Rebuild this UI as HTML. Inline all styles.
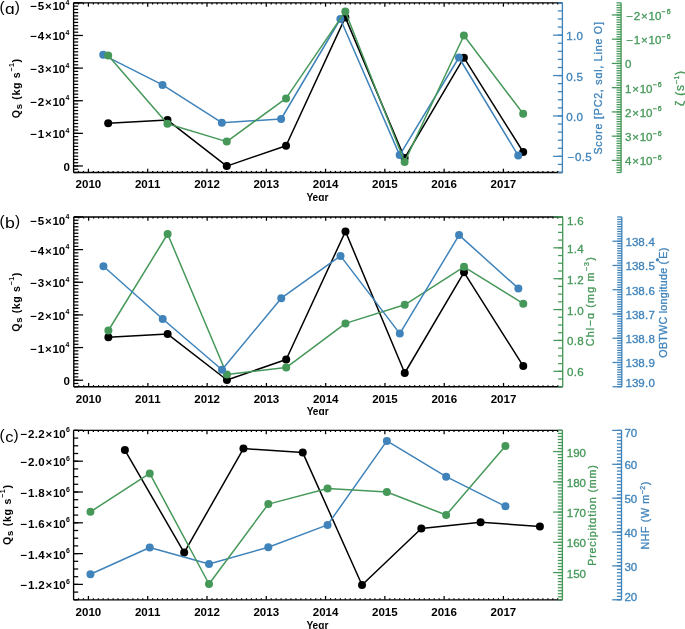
<!DOCTYPE html><html><head><meta charset="utf-8"><style>html,body{margin:0;padding:0;background:#fff;}svg{display:block;will-change:transform}text{font-family:"Liberation Sans",sans-serif;}</style></head><body>
<svg width="685" height="629" viewBox="0 0 685 629">
<rect width="685" height="629" fill="#fff"/>
<text x="-0.4" y="12.3" fill="#000" font-size="15.4">(</text>
<text transform="translate(5,13.8) scale(1.13,1)" fill="#000" font-size="15.4">ɑ</text>
<text x="14.8" y="12.3" fill="#000" font-size="15.4">)</text>
<polyline points="108.18,123.3 167.47,120.1 226.75,166.1 286.04,145.7 345.32,17.4 404.61,158.1 463.89,57.7 523.18,152" fill="none" stroke="#000" stroke-width="1.5" stroke-linejoin="round"/>
<circle cx="108.18" cy="123.3" r="4.0" fill="#000"/>
<circle cx="167.47" cy="120.1" r="4.0" fill="#000"/>
<circle cx="226.75" cy="166.1" r="4.0" fill="#000"/>
<circle cx="286.04" cy="145.7" r="4.0" fill="#000"/>
<circle cx="345.32" cy="17.4" r="4.0" fill="#000"/>
<circle cx="404.61" cy="158.1" r="4.0" fill="#000"/>
<circle cx="463.89" cy="57.7" r="4.0" fill="#000"/>
<circle cx="523.18" cy="152" r="4.0" fill="#000"/>
<polyline points="103.24,54.8 162.53,84.9 221.81,122.7 281.1,119 340.38,19 399.67,155.1 458.95,57.5 518.24,155.6" fill="none" stroke="#3F83BA" stroke-width="1.5" stroke-linejoin="round"/>
<circle cx="103.24" cy="54.8" r="4.0" fill="#3F83BA"/>
<circle cx="162.53" cy="84.9" r="4.0" fill="#3F83BA"/>
<circle cx="221.81" cy="122.7" r="4.0" fill="#3F83BA"/>
<circle cx="281.1" cy="119" r="4.0" fill="#3F83BA"/>
<circle cx="340.38" cy="19" r="4.0" fill="#3F83BA"/>
<circle cx="399.67" cy="155.1" r="4.0" fill="#3F83BA"/>
<circle cx="458.95" cy="57.5" r="4.0" fill="#3F83BA"/>
<circle cx="518.24" cy="155.6" r="4.0" fill="#3F83BA"/>
<polyline points="108.18,55.4 167.47,123.8 226.75,141.6 286.04,98.4 345.32,11.4 404.61,161.9 463.89,35.5 523.18,113.8" fill="none" stroke="#469859" stroke-width="1.5" stroke-linejoin="round"/>
<circle cx="108.18" cy="55.4" r="4.0" fill="#469859"/>
<circle cx="167.47" cy="123.8" r="4.0" fill="#469859"/>
<circle cx="226.75" cy="141.6" r="4.0" fill="#469859"/>
<circle cx="286.04" cy="98.4" r="4.0" fill="#469859"/>
<circle cx="345.32" cy="11.4" r="4.0" fill="#469859"/>
<circle cx="404.61" cy="161.9" r="4.0" fill="#469859"/>
<circle cx="463.89" cy="35.5" r="4.0" fill="#469859"/>
<circle cx="523.18" cy="113.8" r="4.0" fill="#469859"/>
<line x1="73.6" y1="172.5" x2="562.4" y2="172.5" stroke="#000" stroke-width="1.35"/>
<line x1="73.6" y1="2.85" x2="562.4" y2="2.85" stroke="#000" stroke-width="1.35"/>
<line x1="78.54" y1="172.5" x2="78.54" y2="170.9" stroke="#000" stroke-width="1.25"/>
<line x1="78.54" y1="2.85" x2="78.54" y2="4.45" stroke="#000" stroke-width="1.25"/>
<line x1="83.48" y1="172.5" x2="83.48" y2="170.9" stroke="#000" stroke-width="1.25"/>
<line x1="83.48" y1="2.85" x2="83.48" y2="4.45" stroke="#000" stroke-width="1.25"/>
<line x1="88.42" y1="172.5" x2="88.42" y2="168.7" stroke="#000" stroke-width="1.25"/>
<line x1="88.42" y1="2.85" x2="88.42" y2="6.65" stroke="#000" stroke-width="1.25"/>
<line x1="93.36" y1="172.5" x2="93.36" y2="170.9" stroke="#000" stroke-width="1.25"/>
<line x1="93.36" y1="2.85" x2="93.36" y2="4.45" stroke="#000" stroke-width="1.25"/>
<line x1="98.3" y1="172.5" x2="98.3" y2="170.9" stroke="#000" stroke-width="1.25"/>
<line x1="98.3" y1="2.85" x2="98.3" y2="4.45" stroke="#000" stroke-width="1.25"/>
<line x1="103.24" y1="172.5" x2="103.24" y2="170.9" stroke="#000" stroke-width="1.25"/>
<line x1="103.24" y1="2.85" x2="103.24" y2="4.45" stroke="#000" stroke-width="1.25"/>
<line x1="108.18" y1="172.5" x2="108.18" y2="170.9" stroke="#000" stroke-width="1.25"/>
<line x1="108.18" y1="2.85" x2="108.18" y2="4.45" stroke="#000" stroke-width="1.25"/>
<line x1="113.12" y1="172.5" x2="113.12" y2="170.9" stroke="#000" stroke-width="1.25"/>
<line x1="113.12" y1="2.85" x2="113.12" y2="4.45" stroke="#000" stroke-width="1.25"/>
<line x1="118.06" y1="172.5" x2="118.06" y2="170.9" stroke="#000" stroke-width="1.25"/>
<line x1="118.06" y1="2.85" x2="118.06" y2="4.45" stroke="#000" stroke-width="1.25"/>
<line x1="123" y1="172.5" x2="123" y2="170.9" stroke="#000" stroke-width="1.25"/>
<line x1="123" y1="2.85" x2="123" y2="4.45" stroke="#000" stroke-width="1.25"/>
<line x1="127.94" y1="172.5" x2="127.94" y2="170.9" stroke="#000" stroke-width="1.25"/>
<line x1="127.94" y1="2.85" x2="127.94" y2="4.45" stroke="#000" stroke-width="1.25"/>
<line x1="132.88" y1="172.5" x2="132.88" y2="170.9" stroke="#000" stroke-width="1.25"/>
<line x1="132.88" y1="2.85" x2="132.88" y2="4.45" stroke="#000" stroke-width="1.25"/>
<line x1="137.83" y1="172.5" x2="137.83" y2="170.9" stroke="#000" stroke-width="1.25"/>
<line x1="137.83" y1="2.85" x2="137.83" y2="4.45" stroke="#000" stroke-width="1.25"/>
<line x1="142.77" y1="172.5" x2="142.77" y2="170.9" stroke="#000" stroke-width="1.25"/>
<line x1="142.77" y1="2.85" x2="142.77" y2="4.45" stroke="#000" stroke-width="1.25"/>
<line x1="147.71" y1="172.5" x2="147.71" y2="168.7" stroke="#000" stroke-width="1.25"/>
<line x1="147.71" y1="2.85" x2="147.71" y2="6.65" stroke="#000" stroke-width="1.25"/>
<line x1="152.65" y1="172.5" x2="152.65" y2="170.9" stroke="#000" stroke-width="1.25"/>
<line x1="152.65" y1="2.85" x2="152.65" y2="4.45" stroke="#000" stroke-width="1.25"/>
<line x1="157.59" y1="172.5" x2="157.59" y2="170.9" stroke="#000" stroke-width="1.25"/>
<line x1="157.59" y1="2.85" x2="157.59" y2="4.45" stroke="#000" stroke-width="1.25"/>
<line x1="162.53" y1="172.5" x2="162.53" y2="170.9" stroke="#000" stroke-width="1.25"/>
<line x1="162.53" y1="2.85" x2="162.53" y2="4.45" stroke="#000" stroke-width="1.25"/>
<line x1="167.47" y1="172.5" x2="167.47" y2="170.9" stroke="#000" stroke-width="1.25"/>
<line x1="167.47" y1="2.85" x2="167.47" y2="4.45" stroke="#000" stroke-width="1.25"/>
<line x1="172.41" y1="172.5" x2="172.41" y2="170.9" stroke="#000" stroke-width="1.25"/>
<line x1="172.41" y1="2.85" x2="172.41" y2="4.45" stroke="#000" stroke-width="1.25"/>
<line x1="177.35" y1="172.5" x2="177.35" y2="170.9" stroke="#000" stroke-width="1.25"/>
<line x1="177.35" y1="2.85" x2="177.35" y2="4.45" stroke="#000" stroke-width="1.25"/>
<line x1="182.29" y1="172.5" x2="182.29" y2="170.9" stroke="#000" stroke-width="1.25"/>
<line x1="182.29" y1="2.85" x2="182.29" y2="4.45" stroke="#000" stroke-width="1.25"/>
<line x1="187.23" y1="172.5" x2="187.23" y2="170.9" stroke="#000" stroke-width="1.25"/>
<line x1="187.23" y1="2.85" x2="187.23" y2="4.45" stroke="#000" stroke-width="1.25"/>
<line x1="192.17" y1="172.5" x2="192.17" y2="170.9" stroke="#000" stroke-width="1.25"/>
<line x1="192.17" y1="2.85" x2="192.17" y2="4.45" stroke="#000" stroke-width="1.25"/>
<line x1="197.11" y1="172.5" x2="197.11" y2="170.9" stroke="#000" stroke-width="1.25"/>
<line x1="197.11" y1="2.85" x2="197.11" y2="4.45" stroke="#000" stroke-width="1.25"/>
<line x1="202.05" y1="172.5" x2="202.05" y2="170.9" stroke="#000" stroke-width="1.25"/>
<line x1="202.05" y1="2.85" x2="202.05" y2="4.45" stroke="#000" stroke-width="1.25"/>
<line x1="206.99" y1="172.5" x2="206.99" y2="168.7" stroke="#000" stroke-width="1.25"/>
<line x1="206.99" y1="2.85" x2="206.99" y2="6.65" stroke="#000" stroke-width="1.25"/>
<line x1="211.93" y1="172.5" x2="211.93" y2="170.9" stroke="#000" stroke-width="1.25"/>
<line x1="211.93" y1="2.85" x2="211.93" y2="4.45" stroke="#000" stroke-width="1.25"/>
<line x1="216.87" y1="172.5" x2="216.87" y2="170.9" stroke="#000" stroke-width="1.25"/>
<line x1="216.87" y1="2.85" x2="216.87" y2="4.45" stroke="#000" stroke-width="1.25"/>
<line x1="221.81" y1="172.5" x2="221.81" y2="170.9" stroke="#000" stroke-width="1.25"/>
<line x1="221.81" y1="2.85" x2="221.81" y2="4.45" stroke="#000" stroke-width="1.25"/>
<line x1="226.75" y1="172.5" x2="226.75" y2="170.9" stroke="#000" stroke-width="1.25"/>
<line x1="226.75" y1="2.85" x2="226.75" y2="4.45" stroke="#000" stroke-width="1.25"/>
<line x1="231.69" y1="172.5" x2="231.69" y2="170.9" stroke="#000" stroke-width="1.25"/>
<line x1="231.69" y1="2.85" x2="231.69" y2="4.45" stroke="#000" stroke-width="1.25"/>
<line x1="236.63" y1="172.5" x2="236.63" y2="170.9" stroke="#000" stroke-width="1.25"/>
<line x1="236.63" y1="2.85" x2="236.63" y2="4.45" stroke="#000" stroke-width="1.25"/>
<line x1="241.57" y1="172.5" x2="241.57" y2="170.9" stroke="#000" stroke-width="1.25"/>
<line x1="241.57" y1="2.85" x2="241.57" y2="4.45" stroke="#000" stroke-width="1.25"/>
<line x1="246.51" y1="172.5" x2="246.51" y2="170.9" stroke="#000" stroke-width="1.25"/>
<line x1="246.51" y1="2.85" x2="246.51" y2="4.45" stroke="#000" stroke-width="1.25"/>
<line x1="251.45" y1="172.5" x2="251.45" y2="170.9" stroke="#000" stroke-width="1.25"/>
<line x1="251.45" y1="2.85" x2="251.45" y2="4.45" stroke="#000" stroke-width="1.25"/>
<line x1="256.39" y1="172.5" x2="256.39" y2="170.9" stroke="#000" stroke-width="1.25"/>
<line x1="256.39" y1="2.85" x2="256.39" y2="4.45" stroke="#000" stroke-width="1.25"/>
<line x1="261.34" y1="172.5" x2="261.34" y2="170.9" stroke="#000" stroke-width="1.25"/>
<line x1="261.34" y1="2.85" x2="261.34" y2="4.45" stroke="#000" stroke-width="1.25"/>
<line x1="266.28" y1="172.5" x2="266.28" y2="168.7" stroke="#000" stroke-width="1.25"/>
<line x1="266.28" y1="2.85" x2="266.28" y2="6.65" stroke="#000" stroke-width="1.25"/>
<line x1="271.22" y1="172.5" x2="271.22" y2="170.9" stroke="#000" stroke-width="1.25"/>
<line x1="271.22" y1="2.85" x2="271.22" y2="4.45" stroke="#000" stroke-width="1.25"/>
<line x1="276.16" y1="172.5" x2="276.16" y2="170.9" stroke="#000" stroke-width="1.25"/>
<line x1="276.16" y1="2.85" x2="276.16" y2="4.45" stroke="#000" stroke-width="1.25"/>
<line x1="281.1" y1="172.5" x2="281.1" y2="170.9" stroke="#000" stroke-width="1.25"/>
<line x1="281.1" y1="2.85" x2="281.1" y2="4.45" stroke="#000" stroke-width="1.25"/>
<line x1="286.04" y1="172.5" x2="286.04" y2="170.9" stroke="#000" stroke-width="1.25"/>
<line x1="286.04" y1="2.85" x2="286.04" y2="4.45" stroke="#000" stroke-width="1.25"/>
<line x1="290.98" y1="172.5" x2="290.98" y2="170.9" stroke="#000" stroke-width="1.25"/>
<line x1="290.98" y1="2.85" x2="290.98" y2="4.45" stroke="#000" stroke-width="1.25"/>
<line x1="295.92" y1="172.5" x2="295.92" y2="170.9" stroke="#000" stroke-width="1.25"/>
<line x1="295.92" y1="2.85" x2="295.92" y2="4.45" stroke="#000" stroke-width="1.25"/>
<line x1="300.86" y1="172.5" x2="300.86" y2="170.9" stroke="#000" stroke-width="1.25"/>
<line x1="300.86" y1="2.85" x2="300.86" y2="4.45" stroke="#000" stroke-width="1.25"/>
<line x1="305.8" y1="172.5" x2="305.8" y2="170.9" stroke="#000" stroke-width="1.25"/>
<line x1="305.8" y1="2.85" x2="305.8" y2="4.45" stroke="#000" stroke-width="1.25"/>
<line x1="310.74" y1="172.5" x2="310.74" y2="170.9" stroke="#000" stroke-width="1.25"/>
<line x1="310.74" y1="2.85" x2="310.74" y2="4.45" stroke="#000" stroke-width="1.25"/>
<line x1="315.68" y1="172.5" x2="315.68" y2="170.9" stroke="#000" stroke-width="1.25"/>
<line x1="315.68" y1="2.85" x2="315.68" y2="4.45" stroke="#000" stroke-width="1.25"/>
<line x1="320.62" y1="172.5" x2="320.62" y2="170.9" stroke="#000" stroke-width="1.25"/>
<line x1="320.62" y1="2.85" x2="320.62" y2="4.45" stroke="#000" stroke-width="1.25"/>
<line x1="325.56" y1="172.5" x2="325.56" y2="168.7" stroke="#000" stroke-width="1.25"/>
<line x1="325.56" y1="2.85" x2="325.56" y2="6.65" stroke="#000" stroke-width="1.25"/>
<line x1="330.5" y1="172.5" x2="330.5" y2="170.9" stroke="#000" stroke-width="1.25"/>
<line x1="330.5" y1="2.85" x2="330.5" y2="4.45" stroke="#000" stroke-width="1.25"/>
<line x1="335.44" y1="172.5" x2="335.44" y2="170.9" stroke="#000" stroke-width="1.25"/>
<line x1="335.44" y1="2.85" x2="335.44" y2="4.45" stroke="#000" stroke-width="1.25"/>
<line x1="340.38" y1="172.5" x2="340.38" y2="170.9" stroke="#000" stroke-width="1.25"/>
<line x1="340.38" y1="2.85" x2="340.38" y2="4.45" stroke="#000" stroke-width="1.25"/>
<line x1="345.32" y1="172.5" x2="345.32" y2="170.9" stroke="#000" stroke-width="1.25"/>
<line x1="345.32" y1="2.85" x2="345.32" y2="4.45" stroke="#000" stroke-width="1.25"/>
<line x1="350.26" y1="172.5" x2="350.26" y2="170.9" stroke="#000" stroke-width="1.25"/>
<line x1="350.26" y1="2.85" x2="350.26" y2="4.45" stroke="#000" stroke-width="1.25"/>
<line x1="355.2" y1="172.5" x2="355.2" y2="170.9" stroke="#000" stroke-width="1.25"/>
<line x1="355.2" y1="2.85" x2="355.2" y2="4.45" stroke="#000" stroke-width="1.25"/>
<line x1="360.14" y1="172.5" x2="360.14" y2="170.9" stroke="#000" stroke-width="1.25"/>
<line x1="360.14" y1="2.85" x2="360.14" y2="4.45" stroke="#000" stroke-width="1.25"/>
<line x1="365.08" y1="172.5" x2="365.08" y2="170.9" stroke="#000" stroke-width="1.25"/>
<line x1="365.08" y1="2.85" x2="365.08" y2="4.45" stroke="#000" stroke-width="1.25"/>
<line x1="370.02" y1="172.5" x2="370.02" y2="170.9" stroke="#000" stroke-width="1.25"/>
<line x1="370.02" y1="2.85" x2="370.02" y2="4.45" stroke="#000" stroke-width="1.25"/>
<line x1="374.96" y1="172.5" x2="374.96" y2="170.9" stroke="#000" stroke-width="1.25"/>
<line x1="374.96" y1="2.85" x2="374.96" y2="4.45" stroke="#000" stroke-width="1.25"/>
<line x1="379.91" y1="172.5" x2="379.91" y2="170.9" stroke="#000" stroke-width="1.25"/>
<line x1="379.91" y1="2.85" x2="379.91" y2="4.45" stroke="#000" stroke-width="1.25"/>
<line x1="384.85" y1="172.5" x2="384.85" y2="168.7" stroke="#000" stroke-width="1.25"/>
<line x1="384.85" y1="2.85" x2="384.85" y2="6.65" stroke="#000" stroke-width="1.25"/>
<line x1="389.79" y1="172.5" x2="389.79" y2="170.9" stroke="#000" stroke-width="1.25"/>
<line x1="389.79" y1="2.85" x2="389.79" y2="4.45" stroke="#000" stroke-width="1.25"/>
<line x1="394.73" y1="172.5" x2="394.73" y2="170.9" stroke="#000" stroke-width="1.25"/>
<line x1="394.73" y1="2.85" x2="394.73" y2="4.45" stroke="#000" stroke-width="1.25"/>
<line x1="399.67" y1="172.5" x2="399.67" y2="170.9" stroke="#000" stroke-width="1.25"/>
<line x1="399.67" y1="2.85" x2="399.67" y2="4.45" stroke="#000" stroke-width="1.25"/>
<line x1="404.61" y1="172.5" x2="404.61" y2="170.9" stroke="#000" stroke-width="1.25"/>
<line x1="404.61" y1="2.85" x2="404.61" y2="4.45" stroke="#000" stroke-width="1.25"/>
<line x1="409.55" y1="172.5" x2="409.55" y2="170.9" stroke="#000" stroke-width="1.25"/>
<line x1="409.55" y1="2.85" x2="409.55" y2="4.45" stroke="#000" stroke-width="1.25"/>
<line x1="414.49" y1="172.5" x2="414.49" y2="170.9" stroke="#000" stroke-width="1.25"/>
<line x1="414.49" y1="2.85" x2="414.49" y2="4.45" stroke="#000" stroke-width="1.25"/>
<line x1="419.43" y1="172.5" x2="419.43" y2="170.9" stroke="#000" stroke-width="1.25"/>
<line x1="419.43" y1="2.85" x2="419.43" y2="4.45" stroke="#000" stroke-width="1.25"/>
<line x1="424.37" y1="172.5" x2="424.37" y2="170.9" stroke="#000" stroke-width="1.25"/>
<line x1="424.37" y1="2.85" x2="424.37" y2="4.45" stroke="#000" stroke-width="1.25"/>
<line x1="429.31" y1="172.5" x2="429.31" y2="170.9" stroke="#000" stroke-width="1.25"/>
<line x1="429.31" y1="2.85" x2="429.31" y2="4.45" stroke="#000" stroke-width="1.25"/>
<line x1="434.25" y1="172.5" x2="434.25" y2="170.9" stroke="#000" stroke-width="1.25"/>
<line x1="434.25" y1="2.85" x2="434.25" y2="4.45" stroke="#000" stroke-width="1.25"/>
<line x1="439.19" y1="172.5" x2="439.19" y2="170.9" stroke="#000" stroke-width="1.25"/>
<line x1="439.19" y1="2.85" x2="439.19" y2="4.45" stroke="#000" stroke-width="1.25"/>
<line x1="444.13" y1="172.5" x2="444.13" y2="168.7" stroke="#000" stroke-width="1.25"/>
<line x1="444.13" y1="2.85" x2="444.13" y2="6.65" stroke="#000" stroke-width="1.25"/>
<line x1="449.07" y1="172.5" x2="449.07" y2="170.9" stroke="#000" stroke-width="1.25"/>
<line x1="449.07" y1="2.85" x2="449.07" y2="4.45" stroke="#000" stroke-width="1.25"/>
<line x1="454.01" y1="172.5" x2="454.01" y2="170.9" stroke="#000" stroke-width="1.25"/>
<line x1="454.01" y1="2.85" x2="454.01" y2="4.45" stroke="#000" stroke-width="1.25"/>
<line x1="458.95" y1="172.5" x2="458.95" y2="170.9" stroke="#000" stroke-width="1.25"/>
<line x1="458.95" y1="2.85" x2="458.95" y2="4.45" stroke="#000" stroke-width="1.25"/>
<line x1="463.89" y1="172.5" x2="463.89" y2="170.9" stroke="#000" stroke-width="1.25"/>
<line x1="463.89" y1="2.85" x2="463.89" y2="4.45" stroke="#000" stroke-width="1.25"/>
<line x1="468.83" y1="172.5" x2="468.83" y2="170.9" stroke="#000" stroke-width="1.25"/>
<line x1="468.83" y1="2.85" x2="468.83" y2="4.45" stroke="#000" stroke-width="1.25"/>
<line x1="473.77" y1="172.5" x2="473.77" y2="170.9" stroke="#000" stroke-width="1.25"/>
<line x1="473.77" y1="2.85" x2="473.77" y2="4.45" stroke="#000" stroke-width="1.25"/>
<line x1="478.71" y1="172.5" x2="478.71" y2="170.9" stroke="#000" stroke-width="1.25"/>
<line x1="478.71" y1="2.85" x2="478.71" y2="4.45" stroke="#000" stroke-width="1.25"/>
<line x1="483.65" y1="172.5" x2="483.65" y2="170.9" stroke="#000" stroke-width="1.25"/>
<line x1="483.65" y1="2.85" x2="483.65" y2="4.45" stroke="#000" stroke-width="1.25"/>
<line x1="488.59" y1="172.5" x2="488.59" y2="170.9" stroke="#000" stroke-width="1.25"/>
<line x1="488.59" y1="2.85" x2="488.59" y2="4.45" stroke="#000" stroke-width="1.25"/>
<line x1="493.53" y1="172.5" x2="493.53" y2="170.9" stroke="#000" stroke-width="1.25"/>
<line x1="493.53" y1="2.85" x2="493.53" y2="4.45" stroke="#000" stroke-width="1.25"/>
<line x1="498.47" y1="172.5" x2="498.47" y2="170.9" stroke="#000" stroke-width="1.25"/>
<line x1="498.47" y1="2.85" x2="498.47" y2="4.45" stroke="#000" stroke-width="1.25"/>
<line x1="503.42" y1="172.5" x2="503.42" y2="168.7" stroke="#000" stroke-width="1.25"/>
<line x1="503.42" y1="2.85" x2="503.42" y2="6.65" stroke="#000" stroke-width="1.25"/>
<line x1="508.36" y1="172.5" x2="508.36" y2="170.9" stroke="#000" stroke-width="1.25"/>
<line x1="508.36" y1="2.85" x2="508.36" y2="4.45" stroke="#000" stroke-width="1.25"/>
<line x1="513.3" y1="172.5" x2="513.3" y2="170.9" stroke="#000" stroke-width="1.25"/>
<line x1="513.3" y1="2.85" x2="513.3" y2="4.45" stroke="#000" stroke-width="1.25"/>
<line x1="518.24" y1="172.5" x2="518.24" y2="170.9" stroke="#000" stroke-width="1.25"/>
<line x1="518.24" y1="2.85" x2="518.24" y2="4.45" stroke="#000" stroke-width="1.25"/>
<line x1="523.18" y1="172.5" x2="523.18" y2="170.9" stroke="#000" stroke-width="1.25"/>
<line x1="523.18" y1="2.85" x2="523.18" y2="4.45" stroke="#000" stroke-width="1.25"/>
<line x1="528.12" y1="172.5" x2="528.12" y2="170.9" stroke="#000" stroke-width="1.25"/>
<line x1="528.12" y1="2.85" x2="528.12" y2="4.45" stroke="#000" stroke-width="1.25"/>
<line x1="533.06" y1="172.5" x2="533.06" y2="170.9" stroke="#000" stroke-width="1.25"/>
<line x1="533.06" y1="2.85" x2="533.06" y2="4.45" stroke="#000" stroke-width="1.25"/>
<line x1="538" y1="172.5" x2="538" y2="170.9" stroke="#000" stroke-width="1.25"/>
<line x1="538" y1="2.85" x2="538" y2="4.45" stroke="#000" stroke-width="1.25"/>
<line x1="542.94" y1="172.5" x2="542.94" y2="170.9" stroke="#000" stroke-width="1.25"/>
<line x1="542.94" y1="2.85" x2="542.94" y2="4.45" stroke="#000" stroke-width="1.25"/>
<line x1="547.88" y1="172.5" x2="547.88" y2="170.9" stroke="#000" stroke-width="1.25"/>
<line x1="547.88" y1="2.85" x2="547.88" y2="4.45" stroke="#000" stroke-width="1.25"/>
<line x1="552.82" y1="172.5" x2="552.82" y2="170.9" stroke="#000" stroke-width="1.25"/>
<line x1="552.82" y1="2.85" x2="552.82" y2="4.45" stroke="#000" stroke-width="1.25"/>
<line x1="557.76" y1="172.5" x2="557.76" y2="170.9" stroke="#000" stroke-width="1.25"/>
<line x1="557.76" y1="2.85" x2="557.76" y2="4.45" stroke="#000" stroke-width="1.25"/>
<text transform="translate(78.82,188.4) scale(1.08,1)" fill="#000" font-size="10.7" font-weight="bold" text-anchor="middle">2</text>
<text transform="translate(85.22,188.4) scale(1.08,1)" fill="#000" font-size="10.7" font-weight="bold" text-anchor="middle">0</text>
<text transform="translate(91.62,188.4) scale(1.08,1)" fill="#000" font-size="10.7" font-weight="bold" text-anchor="middle">1</text>
<text transform="translate(98.02,188.4) scale(1.08,1)" fill="#000" font-size="10.7" font-weight="bold" text-anchor="middle">0</text>
<text transform="translate(138.11,188.4) scale(1.08,1)" fill="#000" font-size="10.7" font-weight="bold" text-anchor="middle">2</text>
<text transform="translate(144.51,188.4) scale(1.08,1)" fill="#000" font-size="10.7" font-weight="bold" text-anchor="middle">0</text>
<text transform="translate(150.91,188.4) scale(1.08,1)" fill="#000" font-size="10.7" font-weight="bold" text-anchor="middle">1</text>
<text transform="translate(157.31,188.4) scale(1.08,1)" fill="#000" font-size="10.7" font-weight="bold" text-anchor="middle">1</text>
<text transform="translate(197.39,188.4) scale(1.08,1)" fill="#000" font-size="10.7" font-weight="bold" text-anchor="middle">2</text>
<text transform="translate(203.79,188.4) scale(1.08,1)" fill="#000" font-size="10.7" font-weight="bold" text-anchor="middle">0</text>
<text transform="translate(210.19,188.4) scale(1.08,1)" fill="#000" font-size="10.7" font-weight="bold" text-anchor="middle">1</text>
<text transform="translate(216.59,188.4) scale(1.08,1)" fill="#000" font-size="10.7" font-weight="bold" text-anchor="middle">2</text>
<text transform="translate(256.68,188.4) scale(1.08,1)" fill="#000" font-size="10.7" font-weight="bold" text-anchor="middle">2</text>
<text transform="translate(263.08,188.4) scale(1.08,1)" fill="#000" font-size="10.7" font-weight="bold" text-anchor="middle">0</text>
<text transform="translate(269.48,188.4) scale(1.08,1)" fill="#000" font-size="10.7" font-weight="bold" text-anchor="middle">1</text>
<text transform="translate(275.88,188.4) scale(1.08,1)" fill="#000" font-size="10.7" font-weight="bold" text-anchor="middle">3</text>
<text transform="translate(315.96,188.4) scale(1.08,1)" fill="#000" font-size="10.7" font-weight="bold" text-anchor="middle">2</text>
<text transform="translate(322.36,188.4) scale(1.08,1)" fill="#000" font-size="10.7" font-weight="bold" text-anchor="middle">0</text>
<text transform="translate(328.76,188.4) scale(1.08,1)" fill="#000" font-size="10.7" font-weight="bold" text-anchor="middle">1</text>
<text transform="translate(335.16,188.4) scale(1.08,1)" fill="#000" font-size="10.7" font-weight="bold" text-anchor="middle">4</text>
<text transform="translate(375.25,188.4) scale(1.08,1)" fill="#000" font-size="10.7" font-weight="bold" text-anchor="middle">2</text>
<text transform="translate(381.65,188.4) scale(1.08,1)" fill="#000" font-size="10.7" font-weight="bold" text-anchor="middle">0</text>
<text transform="translate(388.05,188.4) scale(1.08,1)" fill="#000" font-size="10.7" font-weight="bold" text-anchor="middle">1</text>
<text transform="translate(394.45,188.4) scale(1.08,1)" fill="#000" font-size="10.7" font-weight="bold" text-anchor="middle">5</text>
<text transform="translate(434.53,188.4) scale(1.08,1)" fill="#000" font-size="10.7" font-weight="bold" text-anchor="middle">2</text>
<text transform="translate(440.93,188.4) scale(1.08,1)" fill="#000" font-size="10.7" font-weight="bold" text-anchor="middle">0</text>
<text transform="translate(447.33,188.4) scale(1.08,1)" fill="#000" font-size="10.7" font-weight="bold" text-anchor="middle">1</text>
<text transform="translate(453.73,188.4) scale(1.08,1)" fill="#000" font-size="10.7" font-weight="bold" text-anchor="middle">6</text>
<text transform="translate(493.82,188.4) scale(1.08,1)" fill="#000" font-size="10.7" font-weight="bold" text-anchor="middle">2</text>
<text transform="translate(500.22,188.4) scale(1.08,1)" fill="#000" font-size="10.7" font-weight="bold" text-anchor="middle">0</text>
<text transform="translate(506.62,188.4) scale(1.08,1)" fill="#000" font-size="10.7" font-weight="bold" text-anchor="middle">1</text>
<text transform="translate(513.02,188.4) scale(1.08,1)" fill="#000" font-size="10.7" font-weight="bold" text-anchor="middle">7</text>
<text transform="translate(317.4,201.2)" fill="#000" font-size="10.7" font-weight="bold" text-anchor="middle" textLength="22" lengthAdjust="spacingAndGlyphs">Yeɑr</text>
<line x1="73.6" y1="2.85" x2="73.6" y2="172.5" stroke="#000" stroke-width="1.35"/>
<line x1="73.6" y1="2.85" x2="78.2" y2="2.85" stroke="#000" stroke-width="1.25"/>
<line x1="73.6" y1="6.11" x2="78.2" y2="6.11" stroke="#000" stroke-width="1.25"/>
<line x1="73.6" y1="9.38" x2="78.2" y2="9.38" stroke="#000" stroke-width="1.25"/>
<line x1="73.6" y1="12.64" x2="78.2" y2="12.64" stroke="#000" stroke-width="1.25"/>
<line x1="73.6" y1="15.9" x2="78.2" y2="15.9" stroke="#000" stroke-width="1.25"/>
<line x1="73.6" y1="19.16" x2="78.2" y2="19.16" stroke="#000" stroke-width="1.25"/>
<line x1="73.6" y1="22.43" x2="78.2" y2="22.43" stroke="#000" stroke-width="1.25"/>
<line x1="73.6" y1="25.69" x2="78.2" y2="25.69" stroke="#000" stroke-width="1.25"/>
<line x1="73.6" y1="28.95" x2="78.2" y2="28.95" stroke="#000" stroke-width="1.25"/>
<line x1="73.6" y1="32.21" x2="78.2" y2="32.21" stroke="#000" stroke-width="1.25"/>
<line x1="73.6" y1="35.47" x2="78.2" y2="35.47" stroke="#000" stroke-width="1.25"/>
<line x1="73.6" y1="38.74" x2="78.2" y2="38.74" stroke="#000" stroke-width="1.25"/>
<line x1="73.6" y1="42" x2="78.2" y2="42" stroke="#000" stroke-width="1.25"/>
<line x1="73.6" y1="45.26" x2="78.2" y2="45.26" stroke="#000" stroke-width="1.25"/>
<line x1="73.6" y1="48.53" x2="78.2" y2="48.53" stroke="#000" stroke-width="1.25"/>
<line x1="73.6" y1="51.79" x2="78.2" y2="51.79" stroke="#000" stroke-width="1.25"/>
<line x1="73.6" y1="55.05" x2="78.2" y2="55.05" stroke="#000" stroke-width="1.25"/>
<line x1="73.6" y1="58.31" x2="78.2" y2="58.31" stroke="#000" stroke-width="1.25"/>
<line x1="73.6" y1="61.57" x2="78.2" y2="61.57" stroke="#000" stroke-width="1.25"/>
<line x1="73.6" y1="64.84" x2="78.2" y2="64.84" stroke="#000" stroke-width="1.25"/>
<line x1="73.6" y1="68.1" x2="78.2" y2="68.1" stroke="#000" stroke-width="1.25"/>
<line x1="73.6" y1="71.36" x2="78.2" y2="71.36" stroke="#000" stroke-width="1.25"/>
<line x1="73.6" y1="74.62" x2="78.2" y2="74.62" stroke="#000" stroke-width="1.25"/>
<line x1="73.6" y1="77.89" x2="78.2" y2="77.89" stroke="#000" stroke-width="1.25"/>
<line x1="73.6" y1="81.15" x2="78.2" y2="81.15" stroke="#000" stroke-width="1.25"/>
<line x1="73.6" y1="84.41" x2="78.2" y2="84.41" stroke="#000" stroke-width="1.25"/>
<line x1="73.6" y1="87.67" x2="78.2" y2="87.67" stroke="#000" stroke-width="1.25"/>
<line x1="73.6" y1="90.94" x2="78.2" y2="90.94" stroke="#000" stroke-width="1.25"/>
<line x1="73.6" y1="94.2" x2="78.2" y2="94.2" stroke="#000" stroke-width="1.25"/>
<line x1="73.6" y1="97.46" x2="78.2" y2="97.46" stroke="#000" stroke-width="1.25"/>
<line x1="73.6" y1="100.72" x2="78.2" y2="100.72" stroke="#000" stroke-width="1.25"/>
<line x1="73.6" y1="103.99" x2="78.2" y2="103.99" stroke="#000" stroke-width="1.25"/>
<line x1="73.6" y1="107.25" x2="78.2" y2="107.25" stroke="#000" stroke-width="1.25"/>
<line x1="73.6" y1="110.51" x2="78.2" y2="110.51" stroke="#000" stroke-width="1.25"/>
<line x1="73.6" y1="113.78" x2="78.2" y2="113.78" stroke="#000" stroke-width="1.25"/>
<line x1="73.6" y1="117.04" x2="78.2" y2="117.04" stroke="#000" stroke-width="1.25"/>
<line x1="73.6" y1="120.3" x2="78.2" y2="120.3" stroke="#000" stroke-width="1.25"/>
<line x1="73.6" y1="123.56" x2="78.2" y2="123.56" stroke="#000" stroke-width="1.25"/>
<line x1="73.6" y1="126.83" x2="78.2" y2="126.83" stroke="#000" stroke-width="1.25"/>
<line x1="73.6" y1="130.09" x2="78.2" y2="130.09" stroke="#000" stroke-width="1.25"/>
<line x1="73.6" y1="133.35" x2="78.2" y2="133.35" stroke="#000" stroke-width="1.25"/>
<line x1="73.6" y1="136.61" x2="78.2" y2="136.61" stroke="#000" stroke-width="1.25"/>
<line x1="73.6" y1="139.88" x2="78.2" y2="139.88" stroke="#000" stroke-width="1.25"/>
<line x1="73.6" y1="143.14" x2="78.2" y2="143.14" stroke="#000" stroke-width="1.25"/>
<line x1="73.6" y1="146.4" x2="78.2" y2="146.4" stroke="#000" stroke-width="1.25"/>
<line x1="73.6" y1="149.66" x2="78.2" y2="149.66" stroke="#000" stroke-width="1.25"/>
<line x1="73.6" y1="152.93" x2="78.2" y2="152.93" stroke="#000" stroke-width="1.25"/>
<line x1="73.6" y1="156.19" x2="78.2" y2="156.19" stroke="#000" stroke-width="1.25"/>
<line x1="73.6" y1="159.45" x2="78.2" y2="159.45" stroke="#000" stroke-width="1.25"/>
<line x1="73.6" y1="162.71" x2="78.2" y2="162.71" stroke="#000" stroke-width="1.25"/>
<line x1="73.6" y1="165.97" x2="78.2" y2="165.97" stroke="#000" stroke-width="1.25"/>
<line x1="73.6" y1="169.24" x2="78.2" y2="169.24" stroke="#000" stroke-width="1.25"/>
<line x1="73.6" y1="172.5" x2="78.2" y2="172.5" stroke="#000" stroke-width="1.25"/>
<line x1="73.6" y1="165.97" x2="82.9" y2="165.97" stroke="#000" stroke-width="1.25"/>
<line x1="73.6" y1="133.35" x2="82.9" y2="133.35" stroke="#000" stroke-width="1.25"/>
<line x1="73.6" y1="100.72" x2="82.9" y2="100.72" stroke="#000" stroke-width="1.25"/>
<line x1="73.6" y1="68.1" x2="82.9" y2="68.1" stroke="#000" stroke-width="1.25"/>
<line x1="73.6" y1="35.47" x2="82.9" y2="35.47" stroke="#000" stroke-width="1.25"/>
<line x1="73.6" y1="2.85" x2="82.9" y2="2.85" stroke="#000" stroke-width="1.25"/>
<text transform="translate(66.6,170.97) scale(1.08,1)" fill="#000" font-size="10.7" font-weight="bold" text-anchor="middle">0</text>
<text transform="translate(33.3,138.35) scale(1.08,1)" fill="#000" font-size="10.7" font-weight="bold" text-anchor="middle">−</text>
<text transform="translate(40.9,138.35) scale(1.08,1)" fill="#000" font-size="10.7" font-weight="bold" text-anchor="middle">1</text>
<text transform="translate(48.25,138.35) scale(1.08,1)" fill="#000" font-size="10.7" font-weight="bold" text-anchor="middle">×</text>
<text transform="translate(55.6,138.35) scale(1.08,1)" fill="#000" font-size="10.7" font-weight="bold" text-anchor="middle">1</text>
<text transform="translate(62,138.35) scale(1.08,1)" fill="#000" font-size="10.7" font-weight="bold" text-anchor="middle">0</text>
<text transform="translate(67.5,132.85) scale(1.08,1)" fill="#000" font-size="6.5" font-weight="bold" text-anchor="middle">4</text>
<text transform="translate(33.3,105.72) scale(1.08,1)" fill="#000" font-size="10.7" font-weight="bold" text-anchor="middle">−</text>
<text transform="translate(40.9,105.72) scale(1.08,1)" fill="#000" font-size="10.7" font-weight="bold" text-anchor="middle">2</text>
<text transform="translate(48.25,105.72) scale(1.08,1)" fill="#000" font-size="10.7" font-weight="bold" text-anchor="middle">×</text>
<text transform="translate(55.6,105.72) scale(1.08,1)" fill="#000" font-size="10.7" font-weight="bold" text-anchor="middle">1</text>
<text transform="translate(62,105.72) scale(1.08,1)" fill="#000" font-size="10.7" font-weight="bold" text-anchor="middle">0</text>
<text transform="translate(67.5,100.22) scale(1.08,1)" fill="#000" font-size="6.5" font-weight="bold" text-anchor="middle">4</text>
<text transform="translate(33.3,73.1) scale(1.08,1)" fill="#000" font-size="10.7" font-weight="bold" text-anchor="middle">−</text>
<text transform="translate(40.9,73.1) scale(1.08,1)" fill="#000" font-size="10.7" font-weight="bold" text-anchor="middle">3</text>
<text transform="translate(48.25,73.1) scale(1.08,1)" fill="#000" font-size="10.7" font-weight="bold" text-anchor="middle">×</text>
<text transform="translate(55.6,73.1) scale(1.08,1)" fill="#000" font-size="10.7" font-weight="bold" text-anchor="middle">1</text>
<text transform="translate(62,73.1) scale(1.08,1)" fill="#000" font-size="10.7" font-weight="bold" text-anchor="middle">0</text>
<text transform="translate(67.5,67.6) scale(1.08,1)" fill="#000" font-size="6.5" font-weight="bold" text-anchor="middle">4</text>
<text transform="translate(33.3,40.47) scale(1.08,1)" fill="#000" font-size="10.7" font-weight="bold" text-anchor="middle">−</text>
<text transform="translate(40.9,40.47) scale(1.08,1)" fill="#000" font-size="10.7" font-weight="bold" text-anchor="middle">4</text>
<text transform="translate(48.25,40.47) scale(1.08,1)" fill="#000" font-size="10.7" font-weight="bold" text-anchor="middle">×</text>
<text transform="translate(55.6,40.47) scale(1.08,1)" fill="#000" font-size="10.7" font-weight="bold" text-anchor="middle">1</text>
<text transform="translate(62,40.47) scale(1.08,1)" fill="#000" font-size="10.7" font-weight="bold" text-anchor="middle">0</text>
<text transform="translate(67.5,34.97) scale(1.08,1)" fill="#000" font-size="6.5" font-weight="bold" text-anchor="middle">4</text>
<text transform="translate(33.3,10.45) scale(1.08,1)" fill="#000" font-size="10.7" font-weight="bold" text-anchor="middle">−</text>
<text transform="translate(40.9,10.45) scale(1.08,1)" fill="#000" font-size="10.7" font-weight="bold" text-anchor="middle">5</text>
<text transform="translate(48.25,10.45) scale(1.08,1)" fill="#000" font-size="10.7" font-weight="bold" text-anchor="middle">×</text>
<text transform="translate(55.6,10.45) scale(1.08,1)" fill="#000" font-size="10.7" font-weight="bold" text-anchor="middle">1</text>
<text transform="translate(62,10.45) scale(1.08,1)" fill="#000" font-size="10.7" font-weight="bold" text-anchor="middle">0</text>
<text transform="translate(67.5,4.95) scale(1.08,1)" fill="#000" font-size="6.5" font-weight="bold" text-anchor="middle">4</text>
<line x1="562.4" y1="2.85" x2="562.4" y2="172.5" stroke="#3F83BA" stroke-width="1.35"/>
<line x1="562.4" y1="172.5" x2="557.8" y2="172.5" stroke="#3F83BA" stroke-width="1.25"/>
<line x1="562.4" y1="164.42" x2="557.8" y2="164.42" stroke="#3F83BA" stroke-width="1.25"/>
<line x1="562.4" y1="156.34" x2="557.8" y2="156.34" stroke="#3F83BA" stroke-width="1.25"/>
<line x1="562.4" y1="148.26" x2="557.8" y2="148.26" stroke="#3F83BA" stroke-width="1.25"/>
<line x1="562.4" y1="140.19" x2="557.8" y2="140.19" stroke="#3F83BA" stroke-width="1.25"/>
<line x1="562.4" y1="132.11" x2="557.8" y2="132.11" stroke="#3F83BA" stroke-width="1.25"/>
<line x1="562.4" y1="124.03" x2="557.8" y2="124.03" stroke="#3F83BA" stroke-width="1.25"/>
<line x1="562.4" y1="115.95" x2="557.8" y2="115.95" stroke="#3F83BA" stroke-width="1.25"/>
<line x1="562.4" y1="107.87" x2="557.8" y2="107.87" stroke="#3F83BA" stroke-width="1.25"/>
<line x1="562.4" y1="99.79" x2="557.8" y2="99.79" stroke="#3F83BA" stroke-width="1.25"/>
<line x1="562.4" y1="91.71" x2="557.8" y2="91.71" stroke="#3F83BA" stroke-width="1.25"/>
<line x1="562.4" y1="83.64" x2="557.8" y2="83.64" stroke="#3F83BA" stroke-width="1.25"/>
<line x1="562.4" y1="75.56" x2="557.8" y2="75.56" stroke="#3F83BA" stroke-width="1.25"/>
<line x1="562.4" y1="67.48" x2="557.8" y2="67.48" stroke="#3F83BA" stroke-width="1.25"/>
<line x1="562.4" y1="59.4" x2="557.8" y2="59.4" stroke="#3F83BA" stroke-width="1.25"/>
<line x1="562.4" y1="51.32" x2="557.8" y2="51.32" stroke="#3F83BA" stroke-width="1.25"/>
<line x1="562.4" y1="43.24" x2="557.8" y2="43.24" stroke="#3F83BA" stroke-width="1.25"/>
<line x1="562.4" y1="35.16" x2="557.8" y2="35.16" stroke="#3F83BA" stroke-width="1.25"/>
<line x1="562.4" y1="27.09" x2="557.8" y2="27.09" stroke="#3F83BA" stroke-width="1.25"/>
<line x1="562.4" y1="19.01" x2="557.8" y2="19.01" stroke="#3F83BA" stroke-width="1.25"/>
<line x1="562.4" y1="10.93" x2="557.8" y2="10.93" stroke="#3F83BA" stroke-width="1.25"/>
<line x1="562.4" y1="2.85" x2="557.8" y2="2.85" stroke="#3F83BA" stroke-width="1.25"/>
<line x1="562.4" y1="156.34" x2="553.1" y2="156.34" stroke="#3F83BA" stroke-width="1.25"/>
<line x1="562.4" y1="115.95" x2="553.1" y2="115.95" stroke="#3F83BA" stroke-width="1.25"/>
<line x1="562.4" y1="75.56" x2="553.1" y2="75.56" stroke="#3F83BA" stroke-width="1.25"/>
<line x1="562.4" y1="35.16" x2="553.1" y2="35.16" stroke="#3F83BA" stroke-width="1.25"/>
<text transform="translate(570.7,161.34) scale(1.08,1)" fill="#3F83BA" font-size="10.7" font-weight="normal" text-anchor="middle" stroke="#3F83BA" stroke-width="0.3">−</text>
<text transform="translate(578.3,161.34) scale(1.08,1)" fill="#3F83BA" font-size="10.7" font-weight="normal" text-anchor="middle" stroke="#3F83BA" stroke-width="0.3">0</text>
<text transform="translate(583.4,161.34) scale(1.08,1)" fill="#3F83BA" font-size="10.7" font-weight="normal" text-anchor="middle" stroke="#3F83BA" stroke-width="0.3">.</text>
<text transform="translate(588.5,161.34) scale(1.08,1)" fill="#3F83BA" font-size="10.7" font-weight="normal" text-anchor="middle" stroke="#3F83BA" stroke-width="0.3">5</text>
<text transform="translate(569.5,120.95) scale(1.08,1)" fill="#3F83BA" font-size="10.7" font-weight="normal" text-anchor="middle" stroke="#3F83BA" stroke-width="0.3">0</text>
<text transform="translate(574.6,120.95) scale(1.08,1)" fill="#3F83BA" font-size="10.7" font-weight="normal" text-anchor="middle" stroke="#3F83BA" stroke-width="0.3">.</text>
<text transform="translate(579.7,120.95) scale(1.08,1)" fill="#3F83BA" font-size="10.7" font-weight="normal" text-anchor="middle" stroke="#3F83BA" stroke-width="0.3">0</text>
<text transform="translate(569.5,80.56) scale(1.08,1)" fill="#3F83BA" font-size="10.7" font-weight="normal" text-anchor="middle" stroke="#3F83BA" stroke-width="0.3">0</text>
<text transform="translate(574.6,80.56) scale(1.08,1)" fill="#3F83BA" font-size="10.7" font-weight="normal" text-anchor="middle" stroke="#3F83BA" stroke-width="0.3">.</text>
<text transform="translate(579.7,80.56) scale(1.08,1)" fill="#3F83BA" font-size="10.7" font-weight="normal" text-anchor="middle" stroke="#3F83BA" stroke-width="0.3">5</text>
<text transform="translate(569.5,40.16) scale(1.08,1)" fill="#3F83BA" font-size="10.7" font-weight="normal" text-anchor="middle" stroke="#3F83BA" stroke-width="0.3">1</text>
<text transform="translate(574.6,40.16) scale(1.08,1)" fill="#3F83BA" font-size="10.7" font-weight="normal" text-anchor="middle" stroke="#3F83BA" stroke-width="0.3">.</text>
<text transform="translate(579.7,40.16) scale(1.08,1)" fill="#3F83BA" font-size="10.7" font-weight="normal" text-anchor="middle" stroke="#3F83BA" stroke-width="0.3">0</text>
<line x1="621.1" y1="2.85" x2="621.1" y2="172.5" stroke="#469859" stroke-width="1.35"/>
<line x1="621.1" y1="2.85" x2="616.5" y2="2.85" stroke="#469859" stroke-width="1.25"/>
<line x1="621.1" y1="5.27" x2="616.5" y2="5.27" stroke="#469859" stroke-width="1.25"/>
<line x1="621.1" y1="7.7" x2="616.5" y2="7.7" stroke="#469859" stroke-width="1.25"/>
<line x1="621.1" y1="10.12" x2="616.5" y2="10.12" stroke="#469859" stroke-width="1.25"/>
<line x1="621.1" y1="12.54" x2="616.5" y2="12.54" stroke="#469859" stroke-width="1.25"/>
<line x1="621.1" y1="14.97" x2="616.5" y2="14.97" stroke="#469859" stroke-width="1.25"/>
<line x1="621.1" y1="17.39" x2="616.5" y2="17.39" stroke="#469859" stroke-width="1.25"/>
<line x1="621.1" y1="19.81" x2="616.5" y2="19.81" stroke="#469859" stroke-width="1.25"/>
<line x1="621.1" y1="22.24" x2="616.5" y2="22.24" stroke="#469859" stroke-width="1.25"/>
<line x1="621.1" y1="24.66" x2="616.5" y2="24.66" stroke="#469859" stroke-width="1.25"/>
<line x1="621.1" y1="27.09" x2="616.5" y2="27.09" stroke="#469859" stroke-width="1.25"/>
<line x1="621.1" y1="29.51" x2="616.5" y2="29.51" stroke="#469859" stroke-width="1.25"/>
<line x1="621.1" y1="31.93" x2="616.5" y2="31.93" stroke="#469859" stroke-width="1.25"/>
<line x1="621.1" y1="34.36" x2="616.5" y2="34.36" stroke="#469859" stroke-width="1.25"/>
<line x1="621.1" y1="36.78" x2="616.5" y2="36.78" stroke="#469859" stroke-width="1.25"/>
<line x1="621.1" y1="39.2" x2="616.5" y2="39.2" stroke="#469859" stroke-width="1.25"/>
<line x1="621.1" y1="41.63" x2="616.5" y2="41.63" stroke="#469859" stroke-width="1.25"/>
<line x1="621.1" y1="44.05" x2="616.5" y2="44.05" stroke="#469859" stroke-width="1.25"/>
<line x1="621.1" y1="46.47" x2="616.5" y2="46.47" stroke="#469859" stroke-width="1.25"/>
<line x1="621.1" y1="48.9" x2="616.5" y2="48.9" stroke="#469859" stroke-width="1.25"/>
<line x1="621.1" y1="51.32" x2="616.5" y2="51.32" stroke="#469859" stroke-width="1.25"/>
<line x1="621.1" y1="53.74" x2="616.5" y2="53.74" stroke="#469859" stroke-width="1.25"/>
<line x1="621.1" y1="56.17" x2="616.5" y2="56.17" stroke="#469859" stroke-width="1.25"/>
<line x1="621.1" y1="58.59" x2="616.5" y2="58.59" stroke="#469859" stroke-width="1.25"/>
<line x1="621.1" y1="61.02" x2="616.5" y2="61.02" stroke="#469859" stroke-width="1.25"/>
<line x1="621.1" y1="63.44" x2="616.5" y2="63.44" stroke="#469859" stroke-width="1.25"/>
<line x1="621.1" y1="65.86" x2="616.5" y2="65.86" stroke="#469859" stroke-width="1.25"/>
<line x1="621.1" y1="68.29" x2="616.5" y2="68.29" stroke="#469859" stroke-width="1.25"/>
<line x1="621.1" y1="70.71" x2="616.5" y2="70.71" stroke="#469859" stroke-width="1.25"/>
<line x1="621.1" y1="73.13" x2="616.5" y2="73.13" stroke="#469859" stroke-width="1.25"/>
<line x1="621.1" y1="75.56" x2="616.5" y2="75.56" stroke="#469859" stroke-width="1.25"/>
<line x1="621.1" y1="77.98" x2="616.5" y2="77.98" stroke="#469859" stroke-width="1.25"/>
<line x1="621.1" y1="80.4" x2="616.5" y2="80.4" stroke="#469859" stroke-width="1.25"/>
<line x1="621.1" y1="82.83" x2="616.5" y2="82.83" stroke="#469859" stroke-width="1.25"/>
<line x1="621.1" y1="85.25" x2="616.5" y2="85.25" stroke="#469859" stroke-width="1.25"/>
<line x1="621.1" y1="87.67" x2="616.5" y2="87.67" stroke="#469859" stroke-width="1.25"/>
<line x1="621.1" y1="90.1" x2="616.5" y2="90.1" stroke="#469859" stroke-width="1.25"/>
<line x1="621.1" y1="92.52" x2="616.5" y2="92.52" stroke="#469859" stroke-width="1.25"/>
<line x1="621.1" y1="94.95" x2="616.5" y2="94.95" stroke="#469859" stroke-width="1.25"/>
<line x1="621.1" y1="97.37" x2="616.5" y2="97.37" stroke="#469859" stroke-width="1.25"/>
<line x1="621.1" y1="99.79" x2="616.5" y2="99.79" stroke="#469859" stroke-width="1.25"/>
<line x1="621.1" y1="102.22" x2="616.5" y2="102.22" stroke="#469859" stroke-width="1.25"/>
<line x1="621.1" y1="104.64" x2="616.5" y2="104.64" stroke="#469859" stroke-width="1.25"/>
<line x1="621.1" y1="107.06" x2="616.5" y2="107.06" stroke="#469859" stroke-width="1.25"/>
<line x1="621.1" y1="109.49" x2="616.5" y2="109.49" stroke="#469859" stroke-width="1.25"/>
<line x1="621.1" y1="111.91" x2="616.5" y2="111.91" stroke="#469859" stroke-width="1.25"/>
<line x1="621.1" y1="114.33" x2="616.5" y2="114.33" stroke="#469859" stroke-width="1.25"/>
<line x1="621.1" y1="116.76" x2="616.5" y2="116.76" stroke="#469859" stroke-width="1.25"/>
<line x1="621.1" y1="119.18" x2="616.5" y2="119.18" stroke="#469859" stroke-width="1.25"/>
<line x1="621.1" y1="121.61" x2="616.5" y2="121.61" stroke="#469859" stroke-width="1.25"/>
<line x1="621.1" y1="124.03" x2="616.5" y2="124.03" stroke="#469859" stroke-width="1.25"/>
<line x1="621.1" y1="126.45" x2="616.5" y2="126.45" stroke="#469859" stroke-width="1.25"/>
<line x1="621.1" y1="128.88" x2="616.5" y2="128.88" stroke="#469859" stroke-width="1.25"/>
<line x1="621.1" y1="131.3" x2="616.5" y2="131.3" stroke="#469859" stroke-width="1.25"/>
<line x1="621.1" y1="133.72" x2="616.5" y2="133.72" stroke="#469859" stroke-width="1.25"/>
<line x1="621.1" y1="136.15" x2="616.5" y2="136.15" stroke="#469859" stroke-width="1.25"/>
<line x1="621.1" y1="138.57" x2="616.5" y2="138.57" stroke="#469859" stroke-width="1.25"/>
<line x1="621.1" y1="140.99" x2="616.5" y2="140.99" stroke="#469859" stroke-width="1.25"/>
<line x1="621.1" y1="143.42" x2="616.5" y2="143.42" stroke="#469859" stroke-width="1.25"/>
<line x1="621.1" y1="145.84" x2="616.5" y2="145.84" stroke="#469859" stroke-width="1.25"/>
<line x1="621.1" y1="148.26" x2="616.5" y2="148.26" stroke="#469859" stroke-width="1.25"/>
<line x1="621.1" y1="150.69" x2="616.5" y2="150.69" stroke="#469859" stroke-width="1.25"/>
<line x1="621.1" y1="153.11" x2="616.5" y2="153.11" stroke="#469859" stroke-width="1.25"/>
<line x1="621.1" y1="155.53" x2="616.5" y2="155.53" stroke="#469859" stroke-width="1.25"/>
<line x1="621.1" y1="157.96" x2="616.5" y2="157.96" stroke="#469859" stroke-width="1.25"/>
<line x1="621.1" y1="160.38" x2="616.5" y2="160.38" stroke="#469859" stroke-width="1.25"/>
<line x1="621.1" y1="162.81" x2="616.5" y2="162.81" stroke="#469859" stroke-width="1.25"/>
<line x1="621.1" y1="165.23" x2="616.5" y2="165.23" stroke="#469859" stroke-width="1.25"/>
<line x1="621.1" y1="167.65" x2="616.5" y2="167.65" stroke="#469859" stroke-width="1.25"/>
<line x1="621.1" y1="170.08" x2="616.5" y2="170.08" stroke="#469859" stroke-width="1.25"/>
<line x1="621.1" y1="172.5" x2="616.5" y2="172.5" stroke="#469859" stroke-width="1.25"/>
<line x1="621.1" y1="160.38" x2="611.8" y2="160.38" stroke="#469859" stroke-width="1.25"/>
<line x1="621.1" y1="136.15" x2="611.8" y2="136.15" stroke="#469859" stroke-width="1.25"/>
<line x1="621.1" y1="111.91" x2="611.8" y2="111.91" stroke="#469859" stroke-width="1.25"/>
<line x1="621.1" y1="87.67" x2="611.8" y2="87.67" stroke="#469859" stroke-width="1.25"/>
<line x1="621.1" y1="63.44" x2="611.8" y2="63.44" stroke="#469859" stroke-width="1.25"/>
<line x1="621.1" y1="39.2" x2="611.8" y2="39.2" stroke="#469859" stroke-width="1.25"/>
<line x1="621.1" y1="14.97" x2="611.8" y2="14.97" stroke="#469859" stroke-width="1.25"/>
<text transform="translate(628.2,165.38) scale(1.08,1)" fill="#469859" font-size="10.7" font-weight="normal" text-anchor="middle" stroke="#469859" stroke-width="0.3">4</text>
<text transform="translate(635.55,165.38) scale(1.08,1)" fill="#469859" font-size="10.7" font-weight="normal" text-anchor="middle" stroke="#469859" stroke-width="0.3">×</text>
<text transform="translate(642.9,165.38) scale(1.08,1)" fill="#469859" font-size="10.7" font-weight="normal" text-anchor="middle" stroke="#469859" stroke-width="0.3">1</text>
<text transform="translate(649.3,165.38) scale(1.08,1)" fill="#469859" font-size="10.7" font-weight="normal" text-anchor="middle" stroke="#469859" stroke-width="0.3">0</text>
<text transform="translate(655,159.88) scale(1.08,1)" fill="#469859" font-size="6.5" font-weight="normal" text-anchor="middle" stroke="#469859" stroke-width="0.3">−</text>
<text transform="translate(659.8,159.88) scale(1.08,1)" fill="#469859" font-size="6.5" font-weight="normal" text-anchor="middle" stroke="#469859" stroke-width="0.3">6</text>
<text transform="translate(628.2,141.15) scale(1.08,1)" fill="#469859" font-size="10.7" font-weight="normal" text-anchor="middle" stroke="#469859" stroke-width="0.3">3</text>
<text transform="translate(635.55,141.15) scale(1.08,1)" fill="#469859" font-size="10.7" font-weight="normal" text-anchor="middle" stroke="#469859" stroke-width="0.3">×</text>
<text transform="translate(642.9,141.15) scale(1.08,1)" fill="#469859" font-size="10.7" font-weight="normal" text-anchor="middle" stroke="#469859" stroke-width="0.3">1</text>
<text transform="translate(649.3,141.15) scale(1.08,1)" fill="#469859" font-size="10.7" font-weight="normal" text-anchor="middle" stroke="#469859" stroke-width="0.3">0</text>
<text transform="translate(655,135.65) scale(1.08,1)" fill="#469859" font-size="6.5" font-weight="normal" text-anchor="middle" stroke="#469859" stroke-width="0.3">−</text>
<text transform="translate(659.8,135.65) scale(1.08,1)" fill="#469859" font-size="6.5" font-weight="normal" text-anchor="middle" stroke="#469859" stroke-width="0.3">6</text>
<text transform="translate(628.2,116.91) scale(1.08,1)" fill="#469859" font-size="10.7" font-weight="normal" text-anchor="middle" stroke="#469859" stroke-width="0.3">2</text>
<text transform="translate(635.55,116.91) scale(1.08,1)" fill="#469859" font-size="10.7" font-weight="normal" text-anchor="middle" stroke="#469859" stroke-width="0.3">×</text>
<text transform="translate(642.9,116.91) scale(1.08,1)" fill="#469859" font-size="10.7" font-weight="normal" text-anchor="middle" stroke="#469859" stroke-width="0.3">1</text>
<text transform="translate(649.3,116.91) scale(1.08,1)" fill="#469859" font-size="10.7" font-weight="normal" text-anchor="middle" stroke="#469859" stroke-width="0.3">0</text>
<text transform="translate(655,111.41) scale(1.08,1)" fill="#469859" font-size="6.5" font-weight="normal" text-anchor="middle" stroke="#469859" stroke-width="0.3">−</text>
<text transform="translate(659.8,111.41) scale(1.08,1)" fill="#469859" font-size="6.5" font-weight="normal" text-anchor="middle" stroke="#469859" stroke-width="0.3">6</text>
<text transform="translate(628.2,92.67) scale(1.08,1)" fill="#469859" font-size="10.7" font-weight="normal" text-anchor="middle" stroke="#469859" stroke-width="0.3">1</text>
<text transform="translate(635.55,92.67) scale(1.08,1)" fill="#469859" font-size="10.7" font-weight="normal" text-anchor="middle" stroke="#469859" stroke-width="0.3">×</text>
<text transform="translate(642.9,92.67) scale(1.08,1)" fill="#469859" font-size="10.7" font-weight="normal" text-anchor="middle" stroke="#469859" stroke-width="0.3">1</text>
<text transform="translate(649.3,92.67) scale(1.08,1)" fill="#469859" font-size="10.7" font-weight="normal" text-anchor="middle" stroke="#469859" stroke-width="0.3">0</text>
<text transform="translate(655,87.17) scale(1.08,1)" fill="#469859" font-size="6.5" font-weight="normal" text-anchor="middle" stroke="#469859" stroke-width="0.3">−</text>
<text transform="translate(659.8,87.17) scale(1.08,1)" fill="#469859" font-size="6.5" font-weight="normal" text-anchor="middle" stroke="#469859" stroke-width="0.3">6</text>
<text transform="translate(628.2,68.44) scale(1.08,1)" fill="#469859" font-size="10.7" font-weight="normal" text-anchor="middle" stroke="#469859" stroke-width="0.3">0</text>
<text transform="translate(629.4,44.2) scale(1.08,1)" fill="#469859" font-size="10.7" font-weight="normal" text-anchor="middle" stroke="#469859" stroke-width="0.3">−</text>
<text transform="translate(637,44.2) scale(1.08,1)" fill="#469859" font-size="10.7" font-weight="normal" text-anchor="middle" stroke="#469859" stroke-width="0.3">1</text>
<text transform="translate(644.35,44.2) scale(1.08,1)" fill="#469859" font-size="10.7" font-weight="normal" text-anchor="middle" stroke="#469859" stroke-width="0.3">×</text>
<text transform="translate(651.7,44.2) scale(1.08,1)" fill="#469859" font-size="10.7" font-weight="normal" text-anchor="middle" stroke="#469859" stroke-width="0.3">1</text>
<text transform="translate(658.1,44.2) scale(1.08,1)" fill="#469859" font-size="10.7" font-weight="normal" text-anchor="middle" stroke="#469859" stroke-width="0.3">0</text>
<text transform="translate(663.8,38.7) scale(1.08,1)" fill="#469859" font-size="6.5" font-weight="normal" text-anchor="middle" stroke="#469859" stroke-width="0.3">−</text>
<text transform="translate(668.6,38.7) scale(1.08,1)" fill="#469859" font-size="6.5" font-weight="normal" text-anchor="middle" stroke="#469859" stroke-width="0.3">6</text>
<text transform="translate(629.4,19.97) scale(1.08,1)" fill="#469859" font-size="10.7" font-weight="normal" text-anchor="middle" stroke="#469859" stroke-width="0.3">−</text>
<text transform="translate(637,19.97) scale(1.08,1)" fill="#469859" font-size="10.7" font-weight="normal" text-anchor="middle" stroke="#469859" stroke-width="0.3">2</text>
<text transform="translate(644.35,19.97) scale(1.08,1)" fill="#469859" font-size="10.7" font-weight="normal" text-anchor="middle" stroke="#469859" stroke-width="0.3">×</text>
<text transform="translate(651.7,19.97) scale(1.08,1)" fill="#469859" font-size="10.7" font-weight="normal" text-anchor="middle" stroke="#469859" stroke-width="0.3">1</text>
<text transform="translate(658.1,19.97) scale(1.08,1)" fill="#469859" font-size="10.7" font-weight="normal" text-anchor="middle" stroke="#469859" stroke-width="0.3">0</text>
<text transform="translate(663.8,14.47) scale(1.08,1)" fill="#469859" font-size="6.5" font-weight="normal" text-anchor="middle" stroke="#469859" stroke-width="0.3">−</text>
<text transform="translate(668.6,14.47) scale(1.08,1)" fill="#469859" font-size="6.5" font-weight="normal" text-anchor="middle" stroke="#469859" stroke-width="0.3">6</text>
<text transform="translate(19.8,88.6) rotate(-90)" fill="#000" font-size="10.7" font-weight="bold" text-anchor="middle" textLength="59.2" lengthAdjust="spacing">Q<tspan font-size="9.5" dy="2.2">s</tspan><tspan dy="-2.2"> (kg s</tspan><tspan font-size="7.0" dy="-5.8">−1</tspan><tspan dy="5.8">)</tspan></text>
<text transform="translate(601.8,88.3) rotate(-90)" fill="#3F83BA" font-size="10.7" font-weight="normal" text-anchor="middle" textLength="132.5" lengthAdjust="spacing" stroke="#3F83BA" stroke-width="0.3">Score [PC2, sɑl, Line O]</text>
<text transform="translate(683.5,88.4) rotate(-90)" fill="#469859" font-size="12" font-weight="normal" text-anchor="middle" textLength="35" lengthAdjust="spacing" stroke="#469859" stroke-width="0.3">ζ (s<tspan font-size="7.0" dy="-4.6">−1</tspan><tspan dy="4.6">)</tspan></text>
<text x="-0.4" y="226" fill="#000" font-size="15.4">(</text>
<text transform="translate(5,227.7) scale(1.15,1)" fill="#000" font-size="15.4">b</text>
<text x="14.9" y="226" fill="#000" font-size="15.4">)</text>
<polyline points="108.38,337.3 167.65,334.1 226.92,380 286.19,359.5 345.47,231.4 404.74,373 464.01,272.3 523.28,366.1" fill="none" stroke="#000" stroke-width="1.5" stroke-linejoin="round"/>
<circle cx="108.38" cy="337.3" r="4.0" fill="#000"/>
<circle cx="167.65" cy="334.1" r="4.0" fill="#000"/>
<circle cx="226.92" cy="380" r="4.0" fill="#000"/>
<circle cx="286.19" cy="359.5" r="4.0" fill="#000"/>
<circle cx="345.47" cy="231.4" r="4.0" fill="#000"/>
<circle cx="404.74" cy="373" r="4.0" fill="#000"/>
<circle cx="464.01" cy="272.3" r="4.0" fill="#000"/>
<circle cx="523.28" cy="366.1" r="4.0" fill="#000"/>
<polyline points="108.38,330.5 167.65,234 226.92,374.5 286.19,367.6 345.47,323.4 404.74,304.8 464.01,266.8 523.28,303.7" fill="none" stroke="#469859" stroke-width="1.5" stroke-linejoin="round"/>
<circle cx="108.38" cy="330.5" r="4.0" fill="#469859"/>
<circle cx="167.65" cy="234" r="4.0" fill="#469859"/>
<circle cx="226.92" cy="374.5" r="4.0" fill="#469859"/>
<circle cx="286.19" cy="367.6" r="4.0" fill="#469859"/>
<circle cx="345.47" cy="323.4" r="4.0" fill="#469859"/>
<circle cx="404.74" cy="304.8" r="4.0" fill="#469859"/>
<circle cx="464.01" cy="266.8" r="4.0" fill="#469859"/>
<circle cx="523.28" cy="303.7" r="4.0" fill="#469859"/>
<polyline points="103.44,266.2 162.71,319 221.98,369.7 281.25,298.2 340.53,255.9 399.8,333.6 459.07,235.1 518.35,288.4" fill="none" stroke="#3F83BA" stroke-width="1.5" stroke-linejoin="round"/>
<circle cx="103.44" cy="266.2" r="4.0" fill="#3F83BA"/>
<circle cx="162.71" cy="319" r="4.0" fill="#3F83BA"/>
<circle cx="221.98" cy="369.7" r="4.0" fill="#3F83BA"/>
<circle cx="281.25" cy="298.2" r="4.0" fill="#3F83BA"/>
<circle cx="340.53" cy="255.9" r="4.0" fill="#3F83BA"/>
<circle cx="399.8" cy="333.6" r="4.0" fill="#3F83BA"/>
<circle cx="459.07" cy="235.1" r="4.0" fill="#3F83BA"/>
<circle cx="518.35" cy="288.4" r="4.0" fill="#3F83BA"/>
<line x1="73.8" y1="386.75" x2="562.7" y2="386.75" stroke="#000" stroke-width="1.35"/>
<line x1="73.8" y1="216.95" x2="562.7" y2="216.95" stroke="#000" stroke-width="1.35"/>
<line x1="78.74" y1="386.75" x2="78.74" y2="385.15" stroke="#000" stroke-width="1.25"/>
<line x1="78.74" y1="216.95" x2="78.74" y2="218.55" stroke="#000" stroke-width="1.25"/>
<line x1="83.68" y1="386.75" x2="83.68" y2="385.15" stroke="#000" stroke-width="1.25"/>
<line x1="83.68" y1="216.95" x2="83.68" y2="218.55" stroke="#000" stroke-width="1.25"/>
<line x1="88.62" y1="386.75" x2="88.62" y2="382.95" stroke="#000" stroke-width="1.25"/>
<line x1="88.62" y1="216.95" x2="88.62" y2="220.75" stroke="#000" stroke-width="1.25"/>
<line x1="93.56" y1="386.75" x2="93.56" y2="385.15" stroke="#000" stroke-width="1.25"/>
<line x1="93.56" y1="216.95" x2="93.56" y2="218.55" stroke="#000" stroke-width="1.25"/>
<line x1="98.5" y1="386.75" x2="98.5" y2="385.15" stroke="#000" stroke-width="1.25"/>
<line x1="98.5" y1="216.95" x2="98.5" y2="218.55" stroke="#000" stroke-width="1.25"/>
<line x1="103.44" y1="386.75" x2="103.44" y2="385.15" stroke="#000" stroke-width="1.25"/>
<line x1="103.44" y1="216.95" x2="103.44" y2="218.55" stroke="#000" stroke-width="1.25"/>
<line x1="108.38" y1="386.75" x2="108.38" y2="385.15" stroke="#000" stroke-width="1.25"/>
<line x1="108.38" y1="216.95" x2="108.38" y2="218.55" stroke="#000" stroke-width="1.25"/>
<line x1="113.32" y1="386.75" x2="113.32" y2="385.15" stroke="#000" stroke-width="1.25"/>
<line x1="113.32" y1="216.95" x2="113.32" y2="218.55" stroke="#000" stroke-width="1.25"/>
<line x1="118.25" y1="386.75" x2="118.25" y2="385.15" stroke="#000" stroke-width="1.25"/>
<line x1="118.25" y1="216.95" x2="118.25" y2="218.55" stroke="#000" stroke-width="1.25"/>
<line x1="123.19" y1="386.75" x2="123.19" y2="385.15" stroke="#000" stroke-width="1.25"/>
<line x1="123.19" y1="216.95" x2="123.19" y2="218.55" stroke="#000" stroke-width="1.25"/>
<line x1="128.13" y1="386.75" x2="128.13" y2="385.15" stroke="#000" stroke-width="1.25"/>
<line x1="128.13" y1="216.95" x2="128.13" y2="218.55" stroke="#000" stroke-width="1.25"/>
<line x1="133.07" y1="386.75" x2="133.07" y2="385.15" stroke="#000" stroke-width="1.25"/>
<line x1="133.07" y1="216.95" x2="133.07" y2="218.55" stroke="#000" stroke-width="1.25"/>
<line x1="138.01" y1="386.75" x2="138.01" y2="385.15" stroke="#000" stroke-width="1.25"/>
<line x1="138.01" y1="216.95" x2="138.01" y2="218.55" stroke="#000" stroke-width="1.25"/>
<line x1="142.95" y1="386.75" x2="142.95" y2="385.15" stroke="#000" stroke-width="1.25"/>
<line x1="142.95" y1="216.95" x2="142.95" y2="218.55" stroke="#000" stroke-width="1.25"/>
<line x1="147.89" y1="386.75" x2="147.89" y2="382.95" stroke="#000" stroke-width="1.25"/>
<line x1="147.89" y1="216.95" x2="147.89" y2="220.75" stroke="#000" stroke-width="1.25"/>
<line x1="152.83" y1="386.75" x2="152.83" y2="385.15" stroke="#000" stroke-width="1.25"/>
<line x1="152.83" y1="216.95" x2="152.83" y2="218.55" stroke="#000" stroke-width="1.25"/>
<line x1="157.77" y1="386.75" x2="157.77" y2="385.15" stroke="#000" stroke-width="1.25"/>
<line x1="157.77" y1="216.95" x2="157.77" y2="218.55" stroke="#000" stroke-width="1.25"/>
<line x1="162.71" y1="386.75" x2="162.71" y2="385.15" stroke="#000" stroke-width="1.25"/>
<line x1="162.71" y1="216.95" x2="162.71" y2="218.55" stroke="#000" stroke-width="1.25"/>
<line x1="167.65" y1="386.75" x2="167.65" y2="385.15" stroke="#000" stroke-width="1.25"/>
<line x1="167.65" y1="216.95" x2="167.65" y2="218.55" stroke="#000" stroke-width="1.25"/>
<line x1="172.59" y1="386.75" x2="172.59" y2="385.15" stroke="#000" stroke-width="1.25"/>
<line x1="172.59" y1="216.95" x2="172.59" y2="218.55" stroke="#000" stroke-width="1.25"/>
<line x1="177.53" y1="386.75" x2="177.53" y2="385.15" stroke="#000" stroke-width="1.25"/>
<line x1="177.53" y1="216.95" x2="177.53" y2="218.55" stroke="#000" stroke-width="1.25"/>
<line x1="182.47" y1="386.75" x2="182.47" y2="385.15" stroke="#000" stroke-width="1.25"/>
<line x1="182.47" y1="216.95" x2="182.47" y2="218.55" stroke="#000" stroke-width="1.25"/>
<line x1="187.41" y1="386.75" x2="187.41" y2="385.15" stroke="#000" stroke-width="1.25"/>
<line x1="187.41" y1="216.95" x2="187.41" y2="218.55" stroke="#000" stroke-width="1.25"/>
<line x1="192.35" y1="386.75" x2="192.35" y2="385.15" stroke="#000" stroke-width="1.25"/>
<line x1="192.35" y1="216.95" x2="192.35" y2="218.55" stroke="#000" stroke-width="1.25"/>
<line x1="197.28" y1="386.75" x2="197.28" y2="385.15" stroke="#000" stroke-width="1.25"/>
<line x1="197.28" y1="216.95" x2="197.28" y2="218.55" stroke="#000" stroke-width="1.25"/>
<line x1="202.22" y1="386.75" x2="202.22" y2="385.15" stroke="#000" stroke-width="1.25"/>
<line x1="202.22" y1="216.95" x2="202.22" y2="218.55" stroke="#000" stroke-width="1.25"/>
<line x1="207.16" y1="386.75" x2="207.16" y2="382.95" stroke="#000" stroke-width="1.25"/>
<line x1="207.16" y1="216.95" x2="207.16" y2="220.75" stroke="#000" stroke-width="1.25"/>
<line x1="212.1" y1="386.75" x2="212.1" y2="385.15" stroke="#000" stroke-width="1.25"/>
<line x1="212.1" y1="216.95" x2="212.1" y2="218.55" stroke="#000" stroke-width="1.25"/>
<line x1="217.04" y1="386.75" x2="217.04" y2="385.15" stroke="#000" stroke-width="1.25"/>
<line x1="217.04" y1="216.95" x2="217.04" y2="218.55" stroke="#000" stroke-width="1.25"/>
<line x1="221.98" y1="386.75" x2="221.98" y2="385.15" stroke="#000" stroke-width="1.25"/>
<line x1="221.98" y1="216.95" x2="221.98" y2="218.55" stroke="#000" stroke-width="1.25"/>
<line x1="226.92" y1="386.75" x2="226.92" y2="385.15" stroke="#000" stroke-width="1.25"/>
<line x1="226.92" y1="216.95" x2="226.92" y2="218.55" stroke="#000" stroke-width="1.25"/>
<line x1="231.86" y1="386.75" x2="231.86" y2="385.15" stroke="#000" stroke-width="1.25"/>
<line x1="231.86" y1="216.95" x2="231.86" y2="218.55" stroke="#000" stroke-width="1.25"/>
<line x1="236.8" y1="386.75" x2="236.8" y2="385.15" stroke="#000" stroke-width="1.25"/>
<line x1="236.8" y1="216.95" x2="236.8" y2="218.55" stroke="#000" stroke-width="1.25"/>
<line x1="241.74" y1="386.75" x2="241.74" y2="385.15" stroke="#000" stroke-width="1.25"/>
<line x1="241.74" y1="216.95" x2="241.74" y2="218.55" stroke="#000" stroke-width="1.25"/>
<line x1="246.68" y1="386.75" x2="246.68" y2="385.15" stroke="#000" stroke-width="1.25"/>
<line x1="246.68" y1="216.95" x2="246.68" y2="218.55" stroke="#000" stroke-width="1.25"/>
<line x1="251.62" y1="386.75" x2="251.62" y2="385.15" stroke="#000" stroke-width="1.25"/>
<line x1="251.62" y1="216.95" x2="251.62" y2="218.55" stroke="#000" stroke-width="1.25"/>
<line x1="256.56" y1="386.75" x2="256.56" y2="385.15" stroke="#000" stroke-width="1.25"/>
<line x1="256.56" y1="216.95" x2="256.56" y2="218.55" stroke="#000" stroke-width="1.25"/>
<line x1="261.5" y1="386.75" x2="261.5" y2="385.15" stroke="#000" stroke-width="1.25"/>
<line x1="261.5" y1="216.95" x2="261.5" y2="218.55" stroke="#000" stroke-width="1.25"/>
<line x1="266.44" y1="386.75" x2="266.44" y2="382.95" stroke="#000" stroke-width="1.25"/>
<line x1="266.44" y1="216.95" x2="266.44" y2="220.75" stroke="#000" stroke-width="1.25"/>
<line x1="271.38" y1="386.75" x2="271.38" y2="385.15" stroke="#000" stroke-width="1.25"/>
<line x1="271.38" y1="216.95" x2="271.38" y2="218.55" stroke="#000" stroke-width="1.25"/>
<line x1="276.32" y1="386.75" x2="276.32" y2="385.15" stroke="#000" stroke-width="1.25"/>
<line x1="276.32" y1="216.95" x2="276.32" y2="218.55" stroke="#000" stroke-width="1.25"/>
<line x1="281.25" y1="386.75" x2="281.25" y2="385.15" stroke="#000" stroke-width="1.25"/>
<line x1="281.25" y1="216.95" x2="281.25" y2="218.55" stroke="#000" stroke-width="1.25"/>
<line x1="286.19" y1="386.75" x2="286.19" y2="385.15" stroke="#000" stroke-width="1.25"/>
<line x1="286.19" y1="216.95" x2="286.19" y2="218.55" stroke="#000" stroke-width="1.25"/>
<line x1="291.13" y1="386.75" x2="291.13" y2="385.15" stroke="#000" stroke-width="1.25"/>
<line x1="291.13" y1="216.95" x2="291.13" y2="218.55" stroke="#000" stroke-width="1.25"/>
<line x1="296.07" y1="386.75" x2="296.07" y2="385.15" stroke="#000" stroke-width="1.25"/>
<line x1="296.07" y1="216.95" x2="296.07" y2="218.55" stroke="#000" stroke-width="1.25"/>
<line x1="301.01" y1="386.75" x2="301.01" y2="385.15" stroke="#000" stroke-width="1.25"/>
<line x1="301.01" y1="216.95" x2="301.01" y2="218.55" stroke="#000" stroke-width="1.25"/>
<line x1="305.95" y1="386.75" x2="305.95" y2="385.15" stroke="#000" stroke-width="1.25"/>
<line x1="305.95" y1="216.95" x2="305.95" y2="218.55" stroke="#000" stroke-width="1.25"/>
<line x1="310.89" y1="386.75" x2="310.89" y2="385.15" stroke="#000" stroke-width="1.25"/>
<line x1="310.89" y1="216.95" x2="310.89" y2="218.55" stroke="#000" stroke-width="1.25"/>
<line x1="315.83" y1="386.75" x2="315.83" y2="385.15" stroke="#000" stroke-width="1.25"/>
<line x1="315.83" y1="216.95" x2="315.83" y2="218.55" stroke="#000" stroke-width="1.25"/>
<line x1="320.77" y1="386.75" x2="320.77" y2="385.15" stroke="#000" stroke-width="1.25"/>
<line x1="320.77" y1="216.95" x2="320.77" y2="218.55" stroke="#000" stroke-width="1.25"/>
<line x1="325.71" y1="386.75" x2="325.71" y2="382.95" stroke="#000" stroke-width="1.25"/>
<line x1="325.71" y1="216.95" x2="325.71" y2="220.75" stroke="#000" stroke-width="1.25"/>
<line x1="330.65" y1="386.75" x2="330.65" y2="385.15" stroke="#000" stroke-width="1.25"/>
<line x1="330.65" y1="216.95" x2="330.65" y2="218.55" stroke="#000" stroke-width="1.25"/>
<line x1="335.59" y1="386.75" x2="335.59" y2="385.15" stroke="#000" stroke-width="1.25"/>
<line x1="335.59" y1="216.95" x2="335.59" y2="218.55" stroke="#000" stroke-width="1.25"/>
<line x1="340.53" y1="386.75" x2="340.53" y2="385.15" stroke="#000" stroke-width="1.25"/>
<line x1="340.53" y1="216.95" x2="340.53" y2="218.55" stroke="#000" stroke-width="1.25"/>
<line x1="345.47" y1="386.75" x2="345.47" y2="385.15" stroke="#000" stroke-width="1.25"/>
<line x1="345.47" y1="216.95" x2="345.47" y2="218.55" stroke="#000" stroke-width="1.25"/>
<line x1="350.41" y1="386.75" x2="350.41" y2="385.15" stroke="#000" stroke-width="1.25"/>
<line x1="350.41" y1="216.95" x2="350.41" y2="218.55" stroke="#000" stroke-width="1.25"/>
<line x1="355.35" y1="386.75" x2="355.35" y2="385.15" stroke="#000" stroke-width="1.25"/>
<line x1="355.35" y1="216.95" x2="355.35" y2="218.55" stroke="#000" stroke-width="1.25"/>
<line x1="360.28" y1="386.75" x2="360.28" y2="385.15" stroke="#000" stroke-width="1.25"/>
<line x1="360.28" y1="216.95" x2="360.28" y2="218.55" stroke="#000" stroke-width="1.25"/>
<line x1="365.22" y1="386.75" x2="365.22" y2="385.15" stroke="#000" stroke-width="1.25"/>
<line x1="365.22" y1="216.95" x2="365.22" y2="218.55" stroke="#000" stroke-width="1.25"/>
<line x1="370.16" y1="386.75" x2="370.16" y2="385.15" stroke="#000" stroke-width="1.25"/>
<line x1="370.16" y1="216.95" x2="370.16" y2="218.55" stroke="#000" stroke-width="1.25"/>
<line x1="375.1" y1="386.75" x2="375.1" y2="385.15" stroke="#000" stroke-width="1.25"/>
<line x1="375.1" y1="216.95" x2="375.1" y2="218.55" stroke="#000" stroke-width="1.25"/>
<line x1="380.04" y1="386.75" x2="380.04" y2="385.15" stroke="#000" stroke-width="1.25"/>
<line x1="380.04" y1="216.95" x2="380.04" y2="218.55" stroke="#000" stroke-width="1.25"/>
<line x1="384.98" y1="386.75" x2="384.98" y2="382.95" stroke="#000" stroke-width="1.25"/>
<line x1="384.98" y1="216.95" x2="384.98" y2="220.75" stroke="#000" stroke-width="1.25"/>
<line x1="389.92" y1="386.75" x2="389.92" y2="385.15" stroke="#000" stroke-width="1.25"/>
<line x1="389.92" y1="216.95" x2="389.92" y2="218.55" stroke="#000" stroke-width="1.25"/>
<line x1="394.86" y1="386.75" x2="394.86" y2="385.15" stroke="#000" stroke-width="1.25"/>
<line x1="394.86" y1="216.95" x2="394.86" y2="218.55" stroke="#000" stroke-width="1.25"/>
<line x1="399.8" y1="386.75" x2="399.8" y2="385.15" stroke="#000" stroke-width="1.25"/>
<line x1="399.8" y1="216.95" x2="399.8" y2="218.55" stroke="#000" stroke-width="1.25"/>
<line x1="404.74" y1="386.75" x2="404.74" y2="385.15" stroke="#000" stroke-width="1.25"/>
<line x1="404.74" y1="216.95" x2="404.74" y2="218.55" stroke="#000" stroke-width="1.25"/>
<line x1="409.68" y1="386.75" x2="409.68" y2="385.15" stroke="#000" stroke-width="1.25"/>
<line x1="409.68" y1="216.95" x2="409.68" y2="218.55" stroke="#000" stroke-width="1.25"/>
<line x1="414.62" y1="386.75" x2="414.62" y2="385.15" stroke="#000" stroke-width="1.25"/>
<line x1="414.62" y1="216.95" x2="414.62" y2="218.55" stroke="#000" stroke-width="1.25"/>
<line x1="419.56" y1="386.75" x2="419.56" y2="385.15" stroke="#000" stroke-width="1.25"/>
<line x1="419.56" y1="216.95" x2="419.56" y2="218.55" stroke="#000" stroke-width="1.25"/>
<line x1="424.5" y1="386.75" x2="424.5" y2="385.15" stroke="#000" stroke-width="1.25"/>
<line x1="424.5" y1="216.95" x2="424.5" y2="218.55" stroke="#000" stroke-width="1.25"/>
<line x1="429.44" y1="386.75" x2="429.44" y2="385.15" stroke="#000" stroke-width="1.25"/>
<line x1="429.44" y1="216.95" x2="429.44" y2="218.55" stroke="#000" stroke-width="1.25"/>
<line x1="434.38" y1="386.75" x2="434.38" y2="385.15" stroke="#000" stroke-width="1.25"/>
<line x1="434.38" y1="216.95" x2="434.38" y2="218.55" stroke="#000" stroke-width="1.25"/>
<line x1="439.32" y1="386.75" x2="439.32" y2="385.15" stroke="#000" stroke-width="1.25"/>
<line x1="439.32" y1="216.95" x2="439.32" y2="218.55" stroke="#000" stroke-width="1.25"/>
<line x1="444.25" y1="386.75" x2="444.25" y2="382.95" stroke="#000" stroke-width="1.25"/>
<line x1="444.25" y1="216.95" x2="444.25" y2="220.75" stroke="#000" stroke-width="1.25"/>
<line x1="449.19" y1="386.75" x2="449.19" y2="385.15" stroke="#000" stroke-width="1.25"/>
<line x1="449.19" y1="216.95" x2="449.19" y2="218.55" stroke="#000" stroke-width="1.25"/>
<line x1="454.13" y1="386.75" x2="454.13" y2="385.15" stroke="#000" stroke-width="1.25"/>
<line x1="454.13" y1="216.95" x2="454.13" y2="218.55" stroke="#000" stroke-width="1.25"/>
<line x1="459.07" y1="386.75" x2="459.07" y2="385.15" stroke="#000" stroke-width="1.25"/>
<line x1="459.07" y1="216.95" x2="459.07" y2="218.55" stroke="#000" stroke-width="1.25"/>
<line x1="464.01" y1="386.75" x2="464.01" y2="385.15" stroke="#000" stroke-width="1.25"/>
<line x1="464.01" y1="216.95" x2="464.01" y2="218.55" stroke="#000" stroke-width="1.25"/>
<line x1="468.95" y1="386.75" x2="468.95" y2="385.15" stroke="#000" stroke-width="1.25"/>
<line x1="468.95" y1="216.95" x2="468.95" y2="218.55" stroke="#000" stroke-width="1.25"/>
<line x1="473.89" y1="386.75" x2="473.89" y2="385.15" stroke="#000" stroke-width="1.25"/>
<line x1="473.89" y1="216.95" x2="473.89" y2="218.55" stroke="#000" stroke-width="1.25"/>
<line x1="478.83" y1="386.75" x2="478.83" y2="385.15" stroke="#000" stroke-width="1.25"/>
<line x1="478.83" y1="216.95" x2="478.83" y2="218.55" stroke="#000" stroke-width="1.25"/>
<line x1="483.77" y1="386.75" x2="483.77" y2="385.15" stroke="#000" stroke-width="1.25"/>
<line x1="483.77" y1="216.95" x2="483.77" y2="218.55" stroke="#000" stroke-width="1.25"/>
<line x1="488.71" y1="386.75" x2="488.71" y2="385.15" stroke="#000" stroke-width="1.25"/>
<line x1="488.71" y1="216.95" x2="488.71" y2="218.55" stroke="#000" stroke-width="1.25"/>
<line x1="493.65" y1="386.75" x2="493.65" y2="385.15" stroke="#000" stroke-width="1.25"/>
<line x1="493.65" y1="216.95" x2="493.65" y2="218.55" stroke="#000" stroke-width="1.25"/>
<line x1="498.59" y1="386.75" x2="498.59" y2="385.15" stroke="#000" stroke-width="1.25"/>
<line x1="498.59" y1="216.95" x2="498.59" y2="218.55" stroke="#000" stroke-width="1.25"/>
<line x1="503.53" y1="386.75" x2="503.53" y2="382.95" stroke="#000" stroke-width="1.25"/>
<line x1="503.53" y1="216.95" x2="503.53" y2="220.75" stroke="#000" stroke-width="1.25"/>
<line x1="508.47" y1="386.75" x2="508.47" y2="385.15" stroke="#000" stroke-width="1.25"/>
<line x1="508.47" y1="216.95" x2="508.47" y2="218.55" stroke="#000" stroke-width="1.25"/>
<line x1="513.41" y1="386.75" x2="513.41" y2="385.15" stroke="#000" stroke-width="1.25"/>
<line x1="513.41" y1="216.95" x2="513.41" y2="218.55" stroke="#000" stroke-width="1.25"/>
<line x1="518.35" y1="386.75" x2="518.35" y2="385.15" stroke="#000" stroke-width="1.25"/>
<line x1="518.35" y1="216.95" x2="518.35" y2="218.55" stroke="#000" stroke-width="1.25"/>
<line x1="523.28" y1="386.75" x2="523.28" y2="385.15" stroke="#000" stroke-width="1.25"/>
<line x1="523.28" y1="216.95" x2="523.28" y2="218.55" stroke="#000" stroke-width="1.25"/>
<line x1="528.22" y1="386.75" x2="528.22" y2="385.15" stroke="#000" stroke-width="1.25"/>
<line x1="528.22" y1="216.95" x2="528.22" y2="218.55" stroke="#000" stroke-width="1.25"/>
<line x1="533.16" y1="386.75" x2="533.16" y2="385.15" stroke="#000" stroke-width="1.25"/>
<line x1="533.16" y1="216.95" x2="533.16" y2="218.55" stroke="#000" stroke-width="1.25"/>
<line x1="538.1" y1="386.75" x2="538.1" y2="385.15" stroke="#000" stroke-width="1.25"/>
<line x1="538.1" y1="216.95" x2="538.1" y2="218.55" stroke="#000" stroke-width="1.25"/>
<line x1="543.04" y1="386.75" x2="543.04" y2="385.15" stroke="#000" stroke-width="1.25"/>
<line x1="543.04" y1="216.95" x2="543.04" y2="218.55" stroke="#000" stroke-width="1.25"/>
<line x1="547.98" y1="386.75" x2="547.98" y2="385.15" stroke="#000" stroke-width="1.25"/>
<line x1="547.98" y1="216.95" x2="547.98" y2="218.55" stroke="#000" stroke-width="1.25"/>
<line x1="552.92" y1="386.75" x2="552.92" y2="385.15" stroke="#000" stroke-width="1.25"/>
<line x1="552.92" y1="216.95" x2="552.92" y2="218.55" stroke="#000" stroke-width="1.25"/>
<line x1="557.86" y1="386.75" x2="557.86" y2="385.15" stroke="#000" stroke-width="1.25"/>
<line x1="557.86" y1="216.95" x2="557.86" y2="218.55" stroke="#000" stroke-width="1.25"/>
<text transform="translate(79.02,402.65) scale(1.08,1)" fill="#000" font-size="10.7" font-weight="bold" text-anchor="middle">2</text>
<text transform="translate(85.42,402.65) scale(1.08,1)" fill="#000" font-size="10.7" font-weight="bold" text-anchor="middle">0</text>
<text transform="translate(91.82,402.65) scale(1.08,1)" fill="#000" font-size="10.7" font-weight="bold" text-anchor="middle">1</text>
<text transform="translate(98.22,402.65) scale(1.08,1)" fill="#000" font-size="10.7" font-weight="bold" text-anchor="middle">0</text>
<text transform="translate(138.29,402.65) scale(1.08,1)" fill="#000" font-size="10.7" font-weight="bold" text-anchor="middle">2</text>
<text transform="translate(144.69,402.65) scale(1.08,1)" fill="#000" font-size="10.7" font-weight="bold" text-anchor="middle">0</text>
<text transform="translate(151.09,402.65) scale(1.08,1)" fill="#000" font-size="10.7" font-weight="bold" text-anchor="middle">1</text>
<text transform="translate(157.49,402.65) scale(1.08,1)" fill="#000" font-size="10.7" font-weight="bold" text-anchor="middle">1</text>
<text transform="translate(197.56,402.65) scale(1.08,1)" fill="#000" font-size="10.7" font-weight="bold" text-anchor="middle">2</text>
<text transform="translate(203.96,402.65) scale(1.08,1)" fill="#000" font-size="10.7" font-weight="bold" text-anchor="middle">0</text>
<text transform="translate(210.36,402.65) scale(1.08,1)" fill="#000" font-size="10.7" font-weight="bold" text-anchor="middle">1</text>
<text transform="translate(216.76,402.65) scale(1.08,1)" fill="#000" font-size="10.7" font-weight="bold" text-anchor="middle">2</text>
<text transform="translate(256.84,402.65) scale(1.08,1)" fill="#000" font-size="10.7" font-weight="bold" text-anchor="middle">2</text>
<text transform="translate(263.24,402.65) scale(1.08,1)" fill="#000" font-size="10.7" font-weight="bold" text-anchor="middle">0</text>
<text transform="translate(269.64,402.65) scale(1.08,1)" fill="#000" font-size="10.7" font-weight="bold" text-anchor="middle">1</text>
<text transform="translate(276.04,402.65) scale(1.08,1)" fill="#000" font-size="10.7" font-weight="bold" text-anchor="middle">3</text>
<text transform="translate(316.11,402.65) scale(1.08,1)" fill="#000" font-size="10.7" font-weight="bold" text-anchor="middle">2</text>
<text transform="translate(322.51,402.65) scale(1.08,1)" fill="#000" font-size="10.7" font-weight="bold" text-anchor="middle">0</text>
<text transform="translate(328.91,402.65) scale(1.08,1)" fill="#000" font-size="10.7" font-weight="bold" text-anchor="middle">1</text>
<text transform="translate(335.31,402.65) scale(1.08,1)" fill="#000" font-size="10.7" font-weight="bold" text-anchor="middle">4</text>
<text transform="translate(375.38,402.65) scale(1.08,1)" fill="#000" font-size="10.7" font-weight="bold" text-anchor="middle">2</text>
<text transform="translate(381.78,402.65) scale(1.08,1)" fill="#000" font-size="10.7" font-weight="bold" text-anchor="middle">0</text>
<text transform="translate(388.18,402.65) scale(1.08,1)" fill="#000" font-size="10.7" font-weight="bold" text-anchor="middle">1</text>
<text transform="translate(394.58,402.65) scale(1.08,1)" fill="#000" font-size="10.7" font-weight="bold" text-anchor="middle">5</text>
<text transform="translate(434.65,402.65) scale(1.08,1)" fill="#000" font-size="10.7" font-weight="bold" text-anchor="middle">2</text>
<text transform="translate(441.05,402.65) scale(1.08,1)" fill="#000" font-size="10.7" font-weight="bold" text-anchor="middle">0</text>
<text transform="translate(447.45,402.65) scale(1.08,1)" fill="#000" font-size="10.7" font-weight="bold" text-anchor="middle">1</text>
<text transform="translate(453.85,402.65) scale(1.08,1)" fill="#000" font-size="10.7" font-weight="bold" text-anchor="middle">6</text>
<text transform="translate(493.93,402.65) scale(1.08,1)" fill="#000" font-size="10.7" font-weight="bold" text-anchor="middle">2</text>
<text transform="translate(500.33,402.65) scale(1.08,1)" fill="#000" font-size="10.7" font-weight="bold" text-anchor="middle">0</text>
<text transform="translate(506.73,402.65) scale(1.08,1)" fill="#000" font-size="10.7" font-weight="bold" text-anchor="middle">1</text>
<text transform="translate(513.13,402.65) scale(1.08,1)" fill="#000" font-size="10.7" font-weight="bold" text-anchor="middle">7</text>
<text transform="translate(317.65,415.45)" fill="#000" font-size="10.7" font-weight="bold" text-anchor="middle" textLength="22" lengthAdjust="spacingAndGlyphs">Yeɑr</text>
<line x1="73.8" y1="216.95" x2="73.8" y2="386.75" stroke="#000" stroke-width="1.35"/>
<line x1="73.8" y1="216.95" x2="78.4" y2="216.95" stroke="#000" stroke-width="1.25"/>
<line x1="73.8" y1="220.22" x2="78.4" y2="220.22" stroke="#000" stroke-width="1.25"/>
<line x1="73.8" y1="223.48" x2="78.4" y2="223.48" stroke="#000" stroke-width="1.25"/>
<line x1="73.8" y1="226.75" x2="78.4" y2="226.75" stroke="#000" stroke-width="1.25"/>
<line x1="73.8" y1="230.01" x2="78.4" y2="230.01" stroke="#000" stroke-width="1.25"/>
<line x1="73.8" y1="233.28" x2="78.4" y2="233.28" stroke="#000" stroke-width="1.25"/>
<line x1="73.8" y1="236.54" x2="78.4" y2="236.54" stroke="#000" stroke-width="1.25"/>
<line x1="73.8" y1="239.81" x2="78.4" y2="239.81" stroke="#000" stroke-width="1.25"/>
<line x1="73.8" y1="243.07" x2="78.4" y2="243.07" stroke="#000" stroke-width="1.25"/>
<line x1="73.8" y1="246.34" x2="78.4" y2="246.34" stroke="#000" stroke-width="1.25"/>
<line x1="73.8" y1="249.6" x2="78.4" y2="249.6" stroke="#000" stroke-width="1.25"/>
<line x1="73.8" y1="252.87" x2="78.4" y2="252.87" stroke="#000" stroke-width="1.25"/>
<line x1="73.8" y1="256.13" x2="78.4" y2="256.13" stroke="#000" stroke-width="1.25"/>
<line x1="73.8" y1="259.4" x2="78.4" y2="259.4" stroke="#000" stroke-width="1.25"/>
<line x1="73.8" y1="262.67" x2="78.4" y2="262.67" stroke="#000" stroke-width="1.25"/>
<line x1="73.8" y1="265.93" x2="78.4" y2="265.93" stroke="#000" stroke-width="1.25"/>
<line x1="73.8" y1="269.2" x2="78.4" y2="269.2" stroke="#000" stroke-width="1.25"/>
<line x1="73.8" y1="272.46" x2="78.4" y2="272.46" stroke="#000" stroke-width="1.25"/>
<line x1="73.8" y1="275.73" x2="78.4" y2="275.73" stroke="#000" stroke-width="1.25"/>
<line x1="73.8" y1="278.99" x2="78.4" y2="278.99" stroke="#000" stroke-width="1.25"/>
<line x1="73.8" y1="282.26" x2="78.4" y2="282.26" stroke="#000" stroke-width="1.25"/>
<line x1="73.8" y1="285.52" x2="78.4" y2="285.52" stroke="#000" stroke-width="1.25"/>
<line x1="73.8" y1="288.79" x2="78.4" y2="288.79" stroke="#000" stroke-width="1.25"/>
<line x1="73.8" y1="292.05" x2="78.4" y2="292.05" stroke="#000" stroke-width="1.25"/>
<line x1="73.8" y1="295.32" x2="78.4" y2="295.32" stroke="#000" stroke-width="1.25"/>
<line x1="73.8" y1="298.58" x2="78.4" y2="298.58" stroke="#000" stroke-width="1.25"/>
<line x1="73.8" y1="301.85" x2="78.4" y2="301.85" stroke="#000" stroke-width="1.25"/>
<line x1="73.8" y1="305.12" x2="78.4" y2="305.12" stroke="#000" stroke-width="1.25"/>
<line x1="73.8" y1="308.38" x2="78.4" y2="308.38" stroke="#000" stroke-width="1.25"/>
<line x1="73.8" y1="311.65" x2="78.4" y2="311.65" stroke="#000" stroke-width="1.25"/>
<line x1="73.8" y1="314.91" x2="78.4" y2="314.91" stroke="#000" stroke-width="1.25"/>
<line x1="73.8" y1="318.18" x2="78.4" y2="318.18" stroke="#000" stroke-width="1.25"/>
<line x1="73.8" y1="321.44" x2="78.4" y2="321.44" stroke="#000" stroke-width="1.25"/>
<line x1="73.8" y1="324.71" x2="78.4" y2="324.71" stroke="#000" stroke-width="1.25"/>
<line x1="73.8" y1="327.97" x2="78.4" y2="327.97" stroke="#000" stroke-width="1.25"/>
<line x1="73.8" y1="331.24" x2="78.4" y2="331.24" stroke="#000" stroke-width="1.25"/>
<line x1="73.8" y1="334.5" x2="78.4" y2="334.5" stroke="#000" stroke-width="1.25"/>
<line x1="73.8" y1="337.77" x2="78.4" y2="337.77" stroke="#000" stroke-width="1.25"/>
<line x1="73.8" y1="341.03" x2="78.4" y2="341.03" stroke="#000" stroke-width="1.25"/>
<line x1="73.8" y1="344.3" x2="78.4" y2="344.3" stroke="#000" stroke-width="1.25"/>
<line x1="73.8" y1="347.57" x2="78.4" y2="347.57" stroke="#000" stroke-width="1.25"/>
<line x1="73.8" y1="350.83" x2="78.4" y2="350.83" stroke="#000" stroke-width="1.25"/>
<line x1="73.8" y1="354.1" x2="78.4" y2="354.1" stroke="#000" stroke-width="1.25"/>
<line x1="73.8" y1="357.36" x2="78.4" y2="357.36" stroke="#000" stroke-width="1.25"/>
<line x1="73.8" y1="360.63" x2="78.4" y2="360.63" stroke="#000" stroke-width="1.25"/>
<line x1="73.8" y1="363.89" x2="78.4" y2="363.89" stroke="#000" stroke-width="1.25"/>
<line x1="73.8" y1="367.16" x2="78.4" y2="367.16" stroke="#000" stroke-width="1.25"/>
<line x1="73.8" y1="370.42" x2="78.4" y2="370.42" stroke="#000" stroke-width="1.25"/>
<line x1="73.8" y1="373.69" x2="78.4" y2="373.69" stroke="#000" stroke-width="1.25"/>
<line x1="73.8" y1="376.95" x2="78.4" y2="376.95" stroke="#000" stroke-width="1.25"/>
<line x1="73.8" y1="380.22" x2="78.4" y2="380.22" stroke="#000" stroke-width="1.25"/>
<line x1="73.8" y1="383.48" x2="78.4" y2="383.48" stroke="#000" stroke-width="1.25"/>
<line x1="73.8" y1="386.75" x2="78.4" y2="386.75" stroke="#000" stroke-width="1.25"/>
<line x1="73.8" y1="380.22" x2="83.1" y2="380.22" stroke="#000" stroke-width="1.25"/>
<line x1="73.8" y1="347.57" x2="83.1" y2="347.57" stroke="#000" stroke-width="1.25"/>
<line x1="73.8" y1="314.91" x2="83.1" y2="314.91" stroke="#000" stroke-width="1.25"/>
<line x1="73.8" y1="282.26" x2="83.1" y2="282.26" stroke="#000" stroke-width="1.25"/>
<line x1="73.8" y1="249.6" x2="83.1" y2="249.6" stroke="#000" stroke-width="1.25"/>
<line x1="73.8" y1="216.95" x2="83.1" y2="216.95" stroke="#000" stroke-width="1.25"/>
<text transform="translate(66.6,385.22) scale(1.08,1)" fill="#000" font-size="10.7" font-weight="bold" text-anchor="middle">0</text>
<text transform="translate(33.3,352.57) scale(1.08,1)" fill="#000" font-size="10.7" font-weight="bold" text-anchor="middle">−</text>
<text transform="translate(40.9,352.57) scale(1.08,1)" fill="#000" font-size="10.7" font-weight="bold" text-anchor="middle">1</text>
<text transform="translate(48.25,352.57) scale(1.08,1)" fill="#000" font-size="10.7" font-weight="bold" text-anchor="middle">×</text>
<text transform="translate(55.6,352.57) scale(1.08,1)" fill="#000" font-size="10.7" font-weight="bold" text-anchor="middle">1</text>
<text transform="translate(62,352.57) scale(1.08,1)" fill="#000" font-size="10.7" font-weight="bold" text-anchor="middle">0</text>
<text transform="translate(67.5,347.07) scale(1.08,1)" fill="#000" font-size="6.5" font-weight="bold" text-anchor="middle">4</text>
<text transform="translate(33.3,319.91) scale(1.08,1)" fill="#000" font-size="10.7" font-weight="bold" text-anchor="middle">−</text>
<text transform="translate(40.9,319.91) scale(1.08,1)" fill="#000" font-size="10.7" font-weight="bold" text-anchor="middle">2</text>
<text transform="translate(48.25,319.91) scale(1.08,1)" fill="#000" font-size="10.7" font-weight="bold" text-anchor="middle">×</text>
<text transform="translate(55.6,319.91) scale(1.08,1)" fill="#000" font-size="10.7" font-weight="bold" text-anchor="middle">1</text>
<text transform="translate(62,319.91) scale(1.08,1)" fill="#000" font-size="10.7" font-weight="bold" text-anchor="middle">0</text>
<text transform="translate(67.5,314.41) scale(1.08,1)" fill="#000" font-size="6.5" font-weight="bold" text-anchor="middle">4</text>
<text transform="translate(33.3,287.26) scale(1.08,1)" fill="#000" font-size="10.7" font-weight="bold" text-anchor="middle">−</text>
<text transform="translate(40.9,287.26) scale(1.08,1)" fill="#000" font-size="10.7" font-weight="bold" text-anchor="middle">3</text>
<text transform="translate(48.25,287.26) scale(1.08,1)" fill="#000" font-size="10.7" font-weight="bold" text-anchor="middle">×</text>
<text transform="translate(55.6,287.26) scale(1.08,1)" fill="#000" font-size="10.7" font-weight="bold" text-anchor="middle">1</text>
<text transform="translate(62,287.26) scale(1.08,1)" fill="#000" font-size="10.7" font-weight="bold" text-anchor="middle">0</text>
<text transform="translate(67.5,281.76) scale(1.08,1)" fill="#000" font-size="6.5" font-weight="bold" text-anchor="middle">4</text>
<text transform="translate(33.3,254.6) scale(1.08,1)" fill="#000" font-size="10.7" font-weight="bold" text-anchor="middle">−</text>
<text transform="translate(40.9,254.6) scale(1.08,1)" fill="#000" font-size="10.7" font-weight="bold" text-anchor="middle">4</text>
<text transform="translate(48.25,254.6) scale(1.08,1)" fill="#000" font-size="10.7" font-weight="bold" text-anchor="middle">×</text>
<text transform="translate(55.6,254.6) scale(1.08,1)" fill="#000" font-size="10.7" font-weight="bold" text-anchor="middle">1</text>
<text transform="translate(62,254.6) scale(1.08,1)" fill="#000" font-size="10.7" font-weight="bold" text-anchor="middle">0</text>
<text transform="translate(67.5,249.1) scale(1.08,1)" fill="#000" font-size="6.5" font-weight="bold" text-anchor="middle">4</text>
<text transform="translate(33.3,224.55) scale(1.08,1)" fill="#000" font-size="10.7" font-weight="bold" text-anchor="middle">−</text>
<text transform="translate(40.9,224.55) scale(1.08,1)" fill="#000" font-size="10.7" font-weight="bold" text-anchor="middle">5</text>
<text transform="translate(48.25,224.55) scale(1.08,1)" fill="#000" font-size="10.7" font-weight="bold" text-anchor="middle">×</text>
<text transform="translate(55.6,224.55) scale(1.08,1)" fill="#000" font-size="10.7" font-weight="bold" text-anchor="middle">1</text>
<text transform="translate(62,224.55) scale(1.08,1)" fill="#000" font-size="10.7" font-weight="bold" text-anchor="middle">0</text>
<text transform="translate(67.5,219.05) scale(1.08,1)" fill="#000" font-size="6.5" font-weight="bold" text-anchor="middle">4</text>
<line x1="562.7" y1="216.95" x2="562.7" y2="386.75" stroke="#469859" stroke-width="1.35"/>
<line x1="562.7" y1="386.75" x2="558.1" y2="386.75" stroke="#469859" stroke-width="1.25"/>
<line x1="562.7" y1="379.03" x2="558.1" y2="379.03" stroke="#469859" stroke-width="1.25"/>
<line x1="562.7" y1="371.31" x2="558.1" y2="371.31" stroke="#469859" stroke-width="1.25"/>
<line x1="562.7" y1="363.6" x2="558.1" y2="363.6" stroke="#469859" stroke-width="1.25"/>
<line x1="562.7" y1="355.88" x2="558.1" y2="355.88" stroke="#469859" stroke-width="1.25"/>
<line x1="562.7" y1="348.16" x2="558.1" y2="348.16" stroke="#469859" stroke-width="1.25"/>
<line x1="562.7" y1="340.44" x2="558.1" y2="340.44" stroke="#469859" stroke-width="1.25"/>
<line x1="562.7" y1="332.72" x2="558.1" y2="332.72" stroke="#469859" stroke-width="1.25"/>
<line x1="562.7" y1="325" x2="558.1" y2="325" stroke="#469859" stroke-width="1.25"/>
<line x1="562.7" y1="317.29" x2="558.1" y2="317.29" stroke="#469859" stroke-width="1.25"/>
<line x1="562.7" y1="309.57" x2="558.1" y2="309.57" stroke="#469859" stroke-width="1.25"/>
<line x1="562.7" y1="301.85" x2="558.1" y2="301.85" stroke="#469859" stroke-width="1.25"/>
<line x1="562.7" y1="294.13" x2="558.1" y2="294.13" stroke="#469859" stroke-width="1.25"/>
<line x1="562.7" y1="286.41" x2="558.1" y2="286.41" stroke="#469859" stroke-width="1.25"/>
<line x1="562.7" y1="278.7" x2="558.1" y2="278.7" stroke="#469859" stroke-width="1.25"/>
<line x1="562.7" y1="270.98" x2="558.1" y2="270.98" stroke="#469859" stroke-width="1.25"/>
<line x1="562.7" y1="263.26" x2="558.1" y2="263.26" stroke="#469859" stroke-width="1.25"/>
<line x1="562.7" y1="255.54" x2="558.1" y2="255.54" stroke="#469859" stroke-width="1.25"/>
<line x1="562.7" y1="247.82" x2="558.1" y2="247.82" stroke="#469859" stroke-width="1.25"/>
<line x1="562.7" y1="240.1" x2="558.1" y2="240.1" stroke="#469859" stroke-width="1.25"/>
<line x1="562.7" y1="232.39" x2="558.1" y2="232.39" stroke="#469859" stroke-width="1.25"/>
<line x1="562.7" y1="224.67" x2="558.1" y2="224.67" stroke="#469859" stroke-width="1.25"/>
<line x1="562.7" y1="216.95" x2="558.1" y2="216.95" stroke="#469859" stroke-width="1.25"/>
<line x1="562.7" y1="371.31" x2="553.4" y2="371.31" stroke="#469859" stroke-width="1.25"/>
<line x1="562.7" y1="340.44" x2="553.4" y2="340.44" stroke="#469859" stroke-width="1.25"/>
<line x1="562.7" y1="309.57" x2="553.4" y2="309.57" stroke="#469859" stroke-width="1.25"/>
<line x1="562.7" y1="278.7" x2="553.4" y2="278.7" stroke="#469859" stroke-width="1.25"/>
<line x1="562.7" y1="247.82" x2="553.4" y2="247.82" stroke="#469859" stroke-width="1.25"/>
<line x1="562.7" y1="216.95" x2="553.4" y2="216.95" stroke="#469859" stroke-width="1.25"/>
<text transform="translate(570.2,376.31) scale(1.08,1)" fill="#469859" font-size="10.7" font-weight="normal" text-anchor="middle" stroke="#469859" stroke-width="0.3">0</text>
<text transform="translate(575.3,376.31) scale(1.08,1)" fill="#469859" font-size="10.7" font-weight="normal" text-anchor="middle" stroke="#469859" stroke-width="0.3">.</text>
<text transform="translate(580.4,376.31) scale(1.08,1)" fill="#469859" font-size="10.7" font-weight="normal" text-anchor="middle" stroke="#469859" stroke-width="0.3">6</text>
<text transform="translate(570.2,345.44) scale(1.08,1)" fill="#469859" font-size="10.7" font-weight="normal" text-anchor="middle" stroke="#469859" stroke-width="0.3">0</text>
<text transform="translate(575.3,345.44) scale(1.08,1)" fill="#469859" font-size="10.7" font-weight="normal" text-anchor="middle" stroke="#469859" stroke-width="0.3">.</text>
<text transform="translate(580.4,345.44) scale(1.08,1)" fill="#469859" font-size="10.7" font-weight="normal" text-anchor="middle" stroke="#469859" stroke-width="0.3">8</text>
<text transform="translate(570.2,314.57) scale(1.08,1)" fill="#469859" font-size="10.7" font-weight="normal" text-anchor="middle" stroke="#469859" stroke-width="0.3">1</text>
<text transform="translate(575.3,314.57) scale(1.08,1)" fill="#469859" font-size="10.7" font-weight="normal" text-anchor="middle" stroke="#469859" stroke-width="0.3">.</text>
<text transform="translate(580.4,314.57) scale(1.08,1)" fill="#469859" font-size="10.7" font-weight="normal" text-anchor="middle" stroke="#469859" stroke-width="0.3">0</text>
<text transform="translate(570.2,283.7) scale(1.08,1)" fill="#469859" font-size="10.7" font-weight="normal" text-anchor="middle" stroke="#469859" stroke-width="0.3">1</text>
<text transform="translate(575.3,283.7) scale(1.08,1)" fill="#469859" font-size="10.7" font-weight="normal" text-anchor="middle" stroke="#469859" stroke-width="0.3">.</text>
<text transform="translate(580.4,283.7) scale(1.08,1)" fill="#469859" font-size="10.7" font-weight="normal" text-anchor="middle" stroke="#469859" stroke-width="0.3">2</text>
<text transform="translate(570.2,252.82) scale(1.08,1)" fill="#469859" font-size="10.7" font-weight="normal" text-anchor="middle" stroke="#469859" stroke-width="0.3">1</text>
<text transform="translate(575.3,252.82) scale(1.08,1)" fill="#469859" font-size="10.7" font-weight="normal" text-anchor="middle" stroke="#469859" stroke-width="0.3">.</text>
<text transform="translate(580.4,252.82) scale(1.08,1)" fill="#469859" font-size="10.7" font-weight="normal" text-anchor="middle" stroke="#469859" stroke-width="0.3">4</text>
<text transform="translate(570.2,224.75) scale(1.08,1)" fill="#469859" font-size="10.7" font-weight="normal" text-anchor="middle" stroke="#469859" stroke-width="0.3">1</text>
<text transform="translate(575.3,224.75) scale(1.08,1)" fill="#469859" font-size="10.7" font-weight="normal" text-anchor="middle" stroke="#469859" stroke-width="0.3">.</text>
<text transform="translate(580.4,224.75) scale(1.08,1)" fill="#469859" font-size="10.7" font-weight="normal" text-anchor="middle" stroke="#469859" stroke-width="0.3">6</text>
<line x1="621.8" y1="216.95" x2="621.8" y2="386.75" stroke="#3F83BA" stroke-width="1.35"/>
<line x1="621.8" y1="216.95" x2="617.2" y2="216.95" stroke="#3F83BA" stroke-width="1.25"/>
<line x1="621.8" y1="219.38" x2="617.2" y2="219.38" stroke="#3F83BA" stroke-width="1.25"/>
<line x1="621.8" y1="221.8" x2="617.2" y2="221.8" stroke="#3F83BA" stroke-width="1.25"/>
<line x1="621.8" y1="224.23" x2="617.2" y2="224.23" stroke="#3F83BA" stroke-width="1.25"/>
<line x1="621.8" y1="226.65" x2="617.2" y2="226.65" stroke="#3F83BA" stroke-width="1.25"/>
<line x1="621.8" y1="229.08" x2="617.2" y2="229.08" stroke="#3F83BA" stroke-width="1.25"/>
<line x1="621.8" y1="231.5" x2="617.2" y2="231.5" stroke="#3F83BA" stroke-width="1.25"/>
<line x1="621.8" y1="233.93" x2="617.2" y2="233.93" stroke="#3F83BA" stroke-width="1.25"/>
<line x1="621.8" y1="236.36" x2="617.2" y2="236.36" stroke="#3F83BA" stroke-width="1.25"/>
<line x1="621.8" y1="238.78" x2="617.2" y2="238.78" stroke="#3F83BA" stroke-width="1.25"/>
<line x1="621.8" y1="241.21" x2="617.2" y2="241.21" stroke="#3F83BA" stroke-width="1.25"/>
<line x1="621.8" y1="243.63" x2="617.2" y2="243.63" stroke="#3F83BA" stroke-width="1.25"/>
<line x1="621.8" y1="246.06" x2="617.2" y2="246.06" stroke="#3F83BA" stroke-width="1.25"/>
<line x1="621.8" y1="248.48" x2="617.2" y2="248.48" stroke="#3F83BA" stroke-width="1.25"/>
<line x1="621.8" y1="250.91" x2="617.2" y2="250.91" stroke="#3F83BA" stroke-width="1.25"/>
<line x1="621.8" y1="253.34" x2="617.2" y2="253.34" stroke="#3F83BA" stroke-width="1.25"/>
<line x1="621.8" y1="255.76" x2="617.2" y2="255.76" stroke="#3F83BA" stroke-width="1.25"/>
<line x1="621.8" y1="258.19" x2="617.2" y2="258.19" stroke="#3F83BA" stroke-width="1.25"/>
<line x1="621.8" y1="260.61" x2="617.2" y2="260.61" stroke="#3F83BA" stroke-width="1.25"/>
<line x1="621.8" y1="263.04" x2="617.2" y2="263.04" stroke="#3F83BA" stroke-width="1.25"/>
<line x1="621.8" y1="265.46" x2="617.2" y2="265.46" stroke="#3F83BA" stroke-width="1.25"/>
<line x1="621.8" y1="267.89" x2="617.2" y2="267.89" stroke="#3F83BA" stroke-width="1.25"/>
<line x1="621.8" y1="270.32" x2="617.2" y2="270.32" stroke="#3F83BA" stroke-width="1.25"/>
<line x1="621.8" y1="272.74" x2="617.2" y2="272.74" stroke="#3F83BA" stroke-width="1.25"/>
<line x1="621.8" y1="275.17" x2="617.2" y2="275.17" stroke="#3F83BA" stroke-width="1.25"/>
<line x1="621.8" y1="277.59" x2="617.2" y2="277.59" stroke="#3F83BA" stroke-width="1.25"/>
<line x1="621.8" y1="280.02" x2="617.2" y2="280.02" stroke="#3F83BA" stroke-width="1.25"/>
<line x1="621.8" y1="282.44" x2="617.2" y2="282.44" stroke="#3F83BA" stroke-width="1.25"/>
<line x1="621.8" y1="284.87" x2="617.2" y2="284.87" stroke="#3F83BA" stroke-width="1.25"/>
<line x1="621.8" y1="287.3" x2="617.2" y2="287.3" stroke="#3F83BA" stroke-width="1.25"/>
<line x1="621.8" y1="289.72" x2="617.2" y2="289.72" stroke="#3F83BA" stroke-width="1.25"/>
<line x1="621.8" y1="292.15" x2="617.2" y2="292.15" stroke="#3F83BA" stroke-width="1.25"/>
<line x1="621.8" y1="294.57" x2="617.2" y2="294.57" stroke="#3F83BA" stroke-width="1.25"/>
<line x1="621.8" y1="297" x2="617.2" y2="297" stroke="#3F83BA" stroke-width="1.25"/>
<line x1="621.8" y1="299.42" x2="617.2" y2="299.42" stroke="#3F83BA" stroke-width="1.25"/>
<line x1="621.8" y1="301.85" x2="617.2" y2="301.85" stroke="#3F83BA" stroke-width="1.25"/>
<line x1="621.8" y1="304.28" x2="617.2" y2="304.28" stroke="#3F83BA" stroke-width="1.25"/>
<line x1="621.8" y1="306.7" x2="617.2" y2="306.7" stroke="#3F83BA" stroke-width="1.25"/>
<line x1="621.8" y1="309.13" x2="617.2" y2="309.13" stroke="#3F83BA" stroke-width="1.25"/>
<line x1="621.8" y1="311.55" x2="617.2" y2="311.55" stroke="#3F83BA" stroke-width="1.25"/>
<line x1="621.8" y1="313.98" x2="617.2" y2="313.98" stroke="#3F83BA" stroke-width="1.25"/>
<line x1="621.8" y1="316.4" x2="617.2" y2="316.4" stroke="#3F83BA" stroke-width="1.25"/>
<line x1="621.8" y1="318.83" x2="617.2" y2="318.83" stroke="#3F83BA" stroke-width="1.25"/>
<line x1="621.8" y1="321.26" x2="617.2" y2="321.26" stroke="#3F83BA" stroke-width="1.25"/>
<line x1="621.8" y1="323.68" x2="617.2" y2="323.68" stroke="#3F83BA" stroke-width="1.25"/>
<line x1="621.8" y1="326.11" x2="617.2" y2="326.11" stroke="#3F83BA" stroke-width="1.25"/>
<line x1="621.8" y1="328.53" x2="617.2" y2="328.53" stroke="#3F83BA" stroke-width="1.25"/>
<line x1="621.8" y1="330.96" x2="617.2" y2="330.96" stroke="#3F83BA" stroke-width="1.25"/>
<line x1="621.8" y1="333.38" x2="617.2" y2="333.38" stroke="#3F83BA" stroke-width="1.25"/>
<line x1="621.8" y1="335.81" x2="617.2" y2="335.81" stroke="#3F83BA" stroke-width="1.25"/>
<line x1="621.8" y1="338.24" x2="617.2" y2="338.24" stroke="#3F83BA" stroke-width="1.25"/>
<line x1="621.8" y1="340.66" x2="617.2" y2="340.66" stroke="#3F83BA" stroke-width="1.25"/>
<line x1="621.8" y1="343.09" x2="617.2" y2="343.09" stroke="#3F83BA" stroke-width="1.25"/>
<line x1="621.8" y1="345.51" x2="617.2" y2="345.51" stroke="#3F83BA" stroke-width="1.25"/>
<line x1="621.8" y1="347.94" x2="617.2" y2="347.94" stroke="#3F83BA" stroke-width="1.25"/>
<line x1="621.8" y1="350.36" x2="617.2" y2="350.36" stroke="#3F83BA" stroke-width="1.25"/>
<line x1="621.8" y1="352.79" x2="617.2" y2="352.79" stroke="#3F83BA" stroke-width="1.25"/>
<line x1="621.8" y1="355.22" x2="617.2" y2="355.22" stroke="#3F83BA" stroke-width="1.25"/>
<line x1="621.8" y1="357.64" x2="617.2" y2="357.64" stroke="#3F83BA" stroke-width="1.25"/>
<line x1="621.8" y1="360.07" x2="617.2" y2="360.07" stroke="#3F83BA" stroke-width="1.25"/>
<line x1="621.8" y1="362.49" x2="617.2" y2="362.49" stroke="#3F83BA" stroke-width="1.25"/>
<line x1="621.8" y1="364.92" x2="617.2" y2="364.92" stroke="#3F83BA" stroke-width="1.25"/>
<line x1="621.8" y1="367.34" x2="617.2" y2="367.34" stroke="#3F83BA" stroke-width="1.25"/>
<line x1="621.8" y1="369.77" x2="617.2" y2="369.77" stroke="#3F83BA" stroke-width="1.25"/>
<line x1="621.8" y1="372.2" x2="617.2" y2="372.2" stroke="#3F83BA" stroke-width="1.25"/>
<line x1="621.8" y1="374.62" x2="617.2" y2="374.62" stroke="#3F83BA" stroke-width="1.25"/>
<line x1="621.8" y1="377.05" x2="617.2" y2="377.05" stroke="#3F83BA" stroke-width="1.25"/>
<line x1="621.8" y1="379.47" x2="617.2" y2="379.47" stroke="#3F83BA" stroke-width="1.25"/>
<line x1="621.8" y1="381.9" x2="617.2" y2="381.9" stroke="#3F83BA" stroke-width="1.25"/>
<line x1="621.8" y1="384.32" x2="617.2" y2="384.32" stroke="#3F83BA" stroke-width="1.25"/>
<line x1="621.8" y1="386.75" x2="617.2" y2="386.75" stroke="#3F83BA" stroke-width="1.25"/>
<line x1="621.8" y1="386.75" x2="612.5" y2="386.75" stroke="#3F83BA" stroke-width="1.25"/>
<line x1="621.8" y1="362.49" x2="612.5" y2="362.49" stroke="#3F83BA" stroke-width="1.25"/>
<line x1="621.8" y1="338.24" x2="612.5" y2="338.24" stroke="#3F83BA" stroke-width="1.25"/>
<line x1="621.8" y1="313.98" x2="612.5" y2="313.98" stroke="#3F83BA" stroke-width="1.25"/>
<line x1="621.8" y1="289.72" x2="612.5" y2="289.72" stroke="#3F83BA" stroke-width="1.25"/>
<line x1="621.8" y1="265.46" x2="612.5" y2="265.46" stroke="#3F83BA" stroke-width="1.25"/>
<line x1="621.8" y1="241.21" x2="612.5" y2="241.21" stroke="#3F83BA" stroke-width="1.25"/>
<text transform="translate(628.7,386.95) scale(1.08,1)" fill="#3F83BA" font-size="10.7" font-weight="normal" text-anchor="middle" stroke="#3F83BA" stroke-width="0.3">1</text>
<text transform="translate(635.1,386.95) scale(1.08,1)" fill="#3F83BA" font-size="10.7" font-weight="normal" text-anchor="middle" stroke="#3F83BA" stroke-width="0.3">3</text>
<text transform="translate(641.5,386.95) scale(1.08,1)" fill="#3F83BA" font-size="10.7" font-weight="normal" text-anchor="middle" stroke="#3F83BA" stroke-width="0.3">9</text>
<text transform="translate(646.6,386.95) scale(1.08,1)" fill="#3F83BA" font-size="10.7" font-weight="normal" text-anchor="middle" stroke="#3F83BA" stroke-width="0.3">.</text>
<text transform="translate(651.7,386.95) scale(1.08,1)" fill="#3F83BA" font-size="10.7" font-weight="normal" text-anchor="middle" stroke="#3F83BA" stroke-width="0.3">0</text>
<text transform="translate(628.7,367.49) scale(1.08,1)" fill="#3F83BA" font-size="10.7" font-weight="normal" text-anchor="middle" stroke="#3F83BA" stroke-width="0.3">1</text>
<text transform="translate(635.1,367.49) scale(1.08,1)" fill="#3F83BA" font-size="10.7" font-weight="normal" text-anchor="middle" stroke="#3F83BA" stroke-width="0.3">3</text>
<text transform="translate(641.5,367.49) scale(1.08,1)" fill="#3F83BA" font-size="10.7" font-weight="normal" text-anchor="middle" stroke="#3F83BA" stroke-width="0.3">8</text>
<text transform="translate(646.6,367.49) scale(1.08,1)" fill="#3F83BA" font-size="10.7" font-weight="normal" text-anchor="middle" stroke="#3F83BA" stroke-width="0.3">.</text>
<text transform="translate(651.7,367.49) scale(1.08,1)" fill="#3F83BA" font-size="10.7" font-weight="normal" text-anchor="middle" stroke="#3F83BA" stroke-width="0.3">9</text>
<text transform="translate(628.7,343.24) scale(1.08,1)" fill="#3F83BA" font-size="10.7" font-weight="normal" text-anchor="middle" stroke="#3F83BA" stroke-width="0.3">1</text>
<text transform="translate(635.1,343.24) scale(1.08,1)" fill="#3F83BA" font-size="10.7" font-weight="normal" text-anchor="middle" stroke="#3F83BA" stroke-width="0.3">3</text>
<text transform="translate(641.5,343.24) scale(1.08,1)" fill="#3F83BA" font-size="10.7" font-weight="normal" text-anchor="middle" stroke="#3F83BA" stroke-width="0.3">8</text>
<text transform="translate(646.6,343.24) scale(1.08,1)" fill="#3F83BA" font-size="10.7" font-weight="normal" text-anchor="middle" stroke="#3F83BA" stroke-width="0.3">.</text>
<text transform="translate(651.7,343.24) scale(1.08,1)" fill="#3F83BA" font-size="10.7" font-weight="normal" text-anchor="middle" stroke="#3F83BA" stroke-width="0.3">8</text>
<text transform="translate(628.7,318.98) scale(1.08,1)" fill="#3F83BA" font-size="10.7" font-weight="normal" text-anchor="middle" stroke="#3F83BA" stroke-width="0.3">1</text>
<text transform="translate(635.1,318.98) scale(1.08,1)" fill="#3F83BA" font-size="10.7" font-weight="normal" text-anchor="middle" stroke="#3F83BA" stroke-width="0.3">3</text>
<text transform="translate(641.5,318.98) scale(1.08,1)" fill="#3F83BA" font-size="10.7" font-weight="normal" text-anchor="middle" stroke="#3F83BA" stroke-width="0.3">8</text>
<text transform="translate(646.6,318.98) scale(1.08,1)" fill="#3F83BA" font-size="10.7" font-weight="normal" text-anchor="middle" stroke="#3F83BA" stroke-width="0.3">.</text>
<text transform="translate(651.7,318.98) scale(1.08,1)" fill="#3F83BA" font-size="10.7" font-weight="normal" text-anchor="middle" stroke="#3F83BA" stroke-width="0.3">7</text>
<text transform="translate(628.7,294.72) scale(1.08,1)" fill="#3F83BA" font-size="10.7" font-weight="normal" text-anchor="middle" stroke="#3F83BA" stroke-width="0.3">1</text>
<text transform="translate(635.1,294.72) scale(1.08,1)" fill="#3F83BA" font-size="10.7" font-weight="normal" text-anchor="middle" stroke="#3F83BA" stroke-width="0.3">3</text>
<text transform="translate(641.5,294.72) scale(1.08,1)" fill="#3F83BA" font-size="10.7" font-weight="normal" text-anchor="middle" stroke="#3F83BA" stroke-width="0.3">8</text>
<text transform="translate(646.6,294.72) scale(1.08,1)" fill="#3F83BA" font-size="10.7" font-weight="normal" text-anchor="middle" stroke="#3F83BA" stroke-width="0.3">.</text>
<text transform="translate(651.7,294.72) scale(1.08,1)" fill="#3F83BA" font-size="10.7" font-weight="normal" text-anchor="middle" stroke="#3F83BA" stroke-width="0.3">6</text>
<text transform="translate(628.7,270.46) scale(1.08,1)" fill="#3F83BA" font-size="10.7" font-weight="normal" text-anchor="middle" stroke="#3F83BA" stroke-width="0.3">1</text>
<text transform="translate(635.1,270.46) scale(1.08,1)" fill="#3F83BA" font-size="10.7" font-weight="normal" text-anchor="middle" stroke="#3F83BA" stroke-width="0.3">3</text>
<text transform="translate(641.5,270.46) scale(1.08,1)" fill="#3F83BA" font-size="10.7" font-weight="normal" text-anchor="middle" stroke="#3F83BA" stroke-width="0.3">8</text>
<text transform="translate(646.6,270.46) scale(1.08,1)" fill="#3F83BA" font-size="10.7" font-weight="normal" text-anchor="middle" stroke="#3F83BA" stroke-width="0.3">.</text>
<text transform="translate(651.7,270.46) scale(1.08,1)" fill="#3F83BA" font-size="10.7" font-weight="normal" text-anchor="middle" stroke="#3F83BA" stroke-width="0.3">5</text>
<text transform="translate(628.7,246.21) scale(1.08,1)" fill="#3F83BA" font-size="10.7" font-weight="normal" text-anchor="middle" stroke="#3F83BA" stroke-width="0.3">1</text>
<text transform="translate(635.1,246.21) scale(1.08,1)" fill="#3F83BA" font-size="10.7" font-weight="normal" text-anchor="middle" stroke="#3F83BA" stroke-width="0.3">3</text>
<text transform="translate(641.5,246.21) scale(1.08,1)" fill="#3F83BA" font-size="10.7" font-weight="normal" text-anchor="middle" stroke="#3F83BA" stroke-width="0.3">8</text>
<text transform="translate(646.6,246.21) scale(1.08,1)" fill="#3F83BA" font-size="10.7" font-weight="normal" text-anchor="middle" stroke="#3F83BA" stroke-width="0.3">.</text>
<text transform="translate(651.7,246.21) scale(1.08,1)" fill="#3F83BA" font-size="10.7" font-weight="normal" text-anchor="middle" stroke="#3F83BA" stroke-width="0.3">4</text>
<text transform="translate(19.8,302.2) rotate(-90)" fill="#000" font-size="10.7" font-weight="bold" text-anchor="middle" textLength="59" lengthAdjust="spacing">Q<tspan font-size="9.5" dy="2.2">s</tspan><tspan dy="-2.2"> (kg s</tspan><tspan font-size="7.0" dy="-5.8">−1</tspan><tspan dy="5.8">)</tspan></text>
<text transform="translate(594,301.8) rotate(-90)" fill="#469859" font-size="10.7" font-weight="normal" text-anchor="middle" textLength="89" lengthAdjust="spacing" stroke="#469859" stroke-width="0.3">Chl−ɑ (mg m<tspan font-size="7.0" dy="-4.6">−3</tspan><tspan dy="4.6">)</tspan></text>
<text transform="translate(666.5,302.7) rotate(-90)" fill="#3F83BA" font-size="10.7" font-weight="normal" text-anchor="middle" textLength="110" lengthAdjust="spacing" stroke="#3F83BA" stroke-width="0.3">OBTWC longitude (<tspan font-size="11" dy="-5.4" dx="-1.2">•</tspan><tspan dy="5.4" dx="-1.0">E)</tspan></text>
<text x="-0.4" y="439.7" fill="#000" font-size="15.4">(</text>
<text transform="translate(5.2,441.6) scale(1.08,1)" fill="#000" font-size="15.4">c</text>
<text x="13.6" y="439.7" fill="#000" font-size="15.4">)</text>
<polyline points="124.88,450.1 184.17,552.6 243.45,448.6 302.74,452.6 362.02,585 421.31,528.5 480.59,522.3 539.88,526.4" fill="none" stroke="#000" stroke-width="1.5" stroke-linejoin="round"/>
<circle cx="124.88" cy="450.1" r="4.0" fill="#000"/>
<circle cx="184.17" cy="552.6" r="4.0" fill="#000"/>
<circle cx="243.45" cy="448.6" r="4.0" fill="#000"/>
<circle cx="302.74" cy="452.6" r="4.0" fill="#000"/>
<circle cx="362.02" cy="585" r="4.0" fill="#000"/>
<circle cx="421.31" cy="528.5" r="4.0" fill="#000"/>
<circle cx="480.59" cy="522.3" r="4.0" fill="#000"/>
<circle cx="539.88" cy="526.4" r="4.0" fill="#000"/>
<polyline points="90.44,574.2 149.72,547.5 209.01,564 268.29,547.2 327.58,524.9 386.86,440.9 446.15,476.7 505.43,506.3" fill="none" stroke="#3F83BA" stroke-width="1.5" stroke-linejoin="round"/>
<circle cx="90.44" cy="574.2" r="4.0" fill="#3F83BA"/>
<circle cx="149.72" cy="547.5" r="4.0" fill="#3F83BA"/>
<circle cx="209.01" cy="564" r="4.0" fill="#3F83BA"/>
<circle cx="268.29" cy="547.2" r="4.0" fill="#3F83BA"/>
<circle cx="327.58" cy="524.9" r="4.0" fill="#3F83BA"/>
<circle cx="386.86" cy="440.9" r="4.0" fill="#3F83BA"/>
<circle cx="446.15" cy="476.7" r="4.0" fill="#3F83BA"/>
<circle cx="505.43" cy="506.3" r="4.0" fill="#3F83BA"/>
<polyline points="90.44,511.8 149.72,473.4 209.01,584 268.29,504.1 327.58,488.4 386.86,492 446.15,515 505.43,446.1" fill="none" stroke="#469859" stroke-width="1.5" stroke-linejoin="round"/>
<circle cx="90.44" cy="511.8" r="4.0" fill="#469859"/>
<circle cx="149.72" cy="473.4" r="4.0" fill="#469859"/>
<circle cx="209.01" cy="584" r="4.0" fill="#469859"/>
<circle cx="268.29" cy="504.1" r="4.0" fill="#469859"/>
<circle cx="327.58" cy="488.4" r="4.0" fill="#469859"/>
<circle cx="386.86" cy="492" r="4.0" fill="#469859"/>
<circle cx="446.15" cy="515" r="4.0" fill="#469859"/>
<circle cx="505.43" cy="446.1" r="4.0" fill="#469859"/>
<line x1="73.6" y1="599.8" x2="562.4" y2="599.8" stroke="#000" stroke-width="1.35"/>
<line x1="73.6" y1="430.4" x2="562.4" y2="430.4" stroke="#000" stroke-width="1.35"/>
<line x1="78.54" y1="599.8" x2="78.54" y2="598.2" stroke="#000" stroke-width="1.25"/>
<line x1="78.54" y1="430.4" x2="78.54" y2="432" stroke="#000" stroke-width="1.25"/>
<line x1="83.48" y1="599.8" x2="83.48" y2="598.2" stroke="#000" stroke-width="1.25"/>
<line x1="83.48" y1="430.4" x2="83.48" y2="432" stroke="#000" stroke-width="1.25"/>
<line x1="88.42" y1="599.8" x2="88.42" y2="596" stroke="#000" stroke-width="1.25"/>
<line x1="88.42" y1="430.4" x2="88.42" y2="434.2" stroke="#000" stroke-width="1.25"/>
<line x1="93.36" y1="599.8" x2="93.36" y2="598.2" stroke="#000" stroke-width="1.25"/>
<line x1="93.36" y1="430.4" x2="93.36" y2="432" stroke="#000" stroke-width="1.25"/>
<line x1="98.3" y1="599.8" x2="98.3" y2="598.2" stroke="#000" stroke-width="1.25"/>
<line x1="98.3" y1="430.4" x2="98.3" y2="432" stroke="#000" stroke-width="1.25"/>
<line x1="103.24" y1="599.8" x2="103.24" y2="598.2" stroke="#000" stroke-width="1.25"/>
<line x1="103.24" y1="430.4" x2="103.24" y2="432" stroke="#000" stroke-width="1.25"/>
<line x1="108.18" y1="599.8" x2="108.18" y2="598.2" stroke="#000" stroke-width="1.25"/>
<line x1="108.18" y1="430.4" x2="108.18" y2="432" stroke="#000" stroke-width="1.25"/>
<line x1="113.12" y1="599.8" x2="113.12" y2="598.2" stroke="#000" stroke-width="1.25"/>
<line x1="113.12" y1="430.4" x2="113.12" y2="432" stroke="#000" stroke-width="1.25"/>
<line x1="118.06" y1="599.8" x2="118.06" y2="598.2" stroke="#000" stroke-width="1.25"/>
<line x1="118.06" y1="430.4" x2="118.06" y2="432" stroke="#000" stroke-width="1.25"/>
<line x1="123" y1="599.8" x2="123" y2="598.2" stroke="#000" stroke-width="1.25"/>
<line x1="123" y1="430.4" x2="123" y2="432" stroke="#000" stroke-width="1.25"/>
<line x1="127.94" y1="599.8" x2="127.94" y2="598.2" stroke="#000" stroke-width="1.25"/>
<line x1="127.94" y1="430.4" x2="127.94" y2="432" stroke="#000" stroke-width="1.25"/>
<line x1="132.88" y1="599.8" x2="132.88" y2="598.2" stroke="#000" stroke-width="1.25"/>
<line x1="132.88" y1="430.4" x2="132.88" y2="432" stroke="#000" stroke-width="1.25"/>
<line x1="137.83" y1="599.8" x2="137.83" y2="598.2" stroke="#000" stroke-width="1.25"/>
<line x1="137.83" y1="430.4" x2="137.83" y2="432" stroke="#000" stroke-width="1.25"/>
<line x1="142.77" y1="599.8" x2="142.77" y2="598.2" stroke="#000" stroke-width="1.25"/>
<line x1="142.77" y1="430.4" x2="142.77" y2="432" stroke="#000" stroke-width="1.25"/>
<line x1="147.71" y1="599.8" x2="147.71" y2="596" stroke="#000" stroke-width="1.25"/>
<line x1="147.71" y1="430.4" x2="147.71" y2="434.2" stroke="#000" stroke-width="1.25"/>
<line x1="152.65" y1="599.8" x2="152.65" y2="598.2" stroke="#000" stroke-width="1.25"/>
<line x1="152.65" y1="430.4" x2="152.65" y2="432" stroke="#000" stroke-width="1.25"/>
<line x1="157.59" y1="599.8" x2="157.59" y2="598.2" stroke="#000" stroke-width="1.25"/>
<line x1="157.59" y1="430.4" x2="157.59" y2="432" stroke="#000" stroke-width="1.25"/>
<line x1="162.53" y1="599.8" x2="162.53" y2="598.2" stroke="#000" stroke-width="1.25"/>
<line x1="162.53" y1="430.4" x2="162.53" y2="432" stroke="#000" stroke-width="1.25"/>
<line x1="167.47" y1="599.8" x2="167.47" y2="598.2" stroke="#000" stroke-width="1.25"/>
<line x1="167.47" y1="430.4" x2="167.47" y2="432" stroke="#000" stroke-width="1.25"/>
<line x1="172.41" y1="599.8" x2="172.41" y2="598.2" stroke="#000" stroke-width="1.25"/>
<line x1="172.41" y1="430.4" x2="172.41" y2="432" stroke="#000" stroke-width="1.25"/>
<line x1="177.35" y1="599.8" x2="177.35" y2="598.2" stroke="#000" stroke-width="1.25"/>
<line x1="177.35" y1="430.4" x2="177.35" y2="432" stroke="#000" stroke-width="1.25"/>
<line x1="182.29" y1="599.8" x2="182.29" y2="598.2" stroke="#000" stroke-width="1.25"/>
<line x1="182.29" y1="430.4" x2="182.29" y2="432" stroke="#000" stroke-width="1.25"/>
<line x1="187.23" y1="599.8" x2="187.23" y2="598.2" stroke="#000" stroke-width="1.25"/>
<line x1="187.23" y1="430.4" x2="187.23" y2="432" stroke="#000" stroke-width="1.25"/>
<line x1="192.17" y1="599.8" x2="192.17" y2="598.2" stroke="#000" stroke-width="1.25"/>
<line x1="192.17" y1="430.4" x2="192.17" y2="432" stroke="#000" stroke-width="1.25"/>
<line x1="197.11" y1="599.8" x2="197.11" y2="598.2" stroke="#000" stroke-width="1.25"/>
<line x1="197.11" y1="430.4" x2="197.11" y2="432" stroke="#000" stroke-width="1.25"/>
<line x1="202.05" y1="599.8" x2="202.05" y2="598.2" stroke="#000" stroke-width="1.25"/>
<line x1="202.05" y1="430.4" x2="202.05" y2="432" stroke="#000" stroke-width="1.25"/>
<line x1="206.99" y1="599.8" x2="206.99" y2="596" stroke="#000" stroke-width="1.25"/>
<line x1="206.99" y1="430.4" x2="206.99" y2="434.2" stroke="#000" stroke-width="1.25"/>
<line x1="211.93" y1="599.8" x2="211.93" y2="598.2" stroke="#000" stroke-width="1.25"/>
<line x1="211.93" y1="430.4" x2="211.93" y2="432" stroke="#000" stroke-width="1.25"/>
<line x1="216.87" y1="599.8" x2="216.87" y2="598.2" stroke="#000" stroke-width="1.25"/>
<line x1="216.87" y1="430.4" x2="216.87" y2="432" stroke="#000" stroke-width="1.25"/>
<line x1="221.81" y1="599.8" x2="221.81" y2="598.2" stroke="#000" stroke-width="1.25"/>
<line x1="221.81" y1="430.4" x2="221.81" y2="432" stroke="#000" stroke-width="1.25"/>
<line x1="226.75" y1="599.8" x2="226.75" y2="598.2" stroke="#000" stroke-width="1.25"/>
<line x1="226.75" y1="430.4" x2="226.75" y2="432" stroke="#000" stroke-width="1.25"/>
<line x1="231.69" y1="599.8" x2="231.69" y2="598.2" stroke="#000" stroke-width="1.25"/>
<line x1="231.69" y1="430.4" x2="231.69" y2="432" stroke="#000" stroke-width="1.25"/>
<line x1="236.63" y1="599.8" x2="236.63" y2="598.2" stroke="#000" stroke-width="1.25"/>
<line x1="236.63" y1="430.4" x2="236.63" y2="432" stroke="#000" stroke-width="1.25"/>
<line x1="241.57" y1="599.8" x2="241.57" y2="598.2" stroke="#000" stroke-width="1.25"/>
<line x1="241.57" y1="430.4" x2="241.57" y2="432" stroke="#000" stroke-width="1.25"/>
<line x1="246.51" y1="599.8" x2="246.51" y2="598.2" stroke="#000" stroke-width="1.25"/>
<line x1="246.51" y1="430.4" x2="246.51" y2="432" stroke="#000" stroke-width="1.25"/>
<line x1="251.45" y1="599.8" x2="251.45" y2="598.2" stroke="#000" stroke-width="1.25"/>
<line x1="251.45" y1="430.4" x2="251.45" y2="432" stroke="#000" stroke-width="1.25"/>
<line x1="256.39" y1="599.8" x2="256.39" y2="598.2" stroke="#000" stroke-width="1.25"/>
<line x1="256.39" y1="430.4" x2="256.39" y2="432" stroke="#000" stroke-width="1.25"/>
<line x1="261.34" y1="599.8" x2="261.34" y2="598.2" stroke="#000" stroke-width="1.25"/>
<line x1="261.34" y1="430.4" x2="261.34" y2="432" stroke="#000" stroke-width="1.25"/>
<line x1="266.28" y1="599.8" x2="266.28" y2="596" stroke="#000" stroke-width="1.25"/>
<line x1="266.28" y1="430.4" x2="266.28" y2="434.2" stroke="#000" stroke-width="1.25"/>
<line x1="271.22" y1="599.8" x2="271.22" y2="598.2" stroke="#000" stroke-width="1.25"/>
<line x1="271.22" y1="430.4" x2="271.22" y2="432" stroke="#000" stroke-width="1.25"/>
<line x1="276.16" y1="599.8" x2="276.16" y2="598.2" stroke="#000" stroke-width="1.25"/>
<line x1="276.16" y1="430.4" x2="276.16" y2="432" stroke="#000" stroke-width="1.25"/>
<line x1="281.1" y1="599.8" x2="281.1" y2="598.2" stroke="#000" stroke-width="1.25"/>
<line x1="281.1" y1="430.4" x2="281.1" y2="432" stroke="#000" stroke-width="1.25"/>
<line x1="286.04" y1="599.8" x2="286.04" y2="598.2" stroke="#000" stroke-width="1.25"/>
<line x1="286.04" y1="430.4" x2="286.04" y2="432" stroke="#000" stroke-width="1.25"/>
<line x1="290.98" y1="599.8" x2="290.98" y2="598.2" stroke="#000" stroke-width="1.25"/>
<line x1="290.98" y1="430.4" x2="290.98" y2="432" stroke="#000" stroke-width="1.25"/>
<line x1="295.92" y1="599.8" x2="295.92" y2="598.2" stroke="#000" stroke-width="1.25"/>
<line x1="295.92" y1="430.4" x2="295.92" y2="432" stroke="#000" stroke-width="1.25"/>
<line x1="300.86" y1="599.8" x2="300.86" y2="598.2" stroke="#000" stroke-width="1.25"/>
<line x1="300.86" y1="430.4" x2="300.86" y2="432" stroke="#000" stroke-width="1.25"/>
<line x1="305.8" y1="599.8" x2="305.8" y2="598.2" stroke="#000" stroke-width="1.25"/>
<line x1="305.8" y1="430.4" x2="305.8" y2="432" stroke="#000" stroke-width="1.25"/>
<line x1="310.74" y1="599.8" x2="310.74" y2="598.2" stroke="#000" stroke-width="1.25"/>
<line x1="310.74" y1="430.4" x2="310.74" y2="432" stroke="#000" stroke-width="1.25"/>
<line x1="315.68" y1="599.8" x2="315.68" y2="598.2" stroke="#000" stroke-width="1.25"/>
<line x1="315.68" y1="430.4" x2="315.68" y2="432" stroke="#000" stroke-width="1.25"/>
<line x1="320.62" y1="599.8" x2="320.62" y2="598.2" stroke="#000" stroke-width="1.25"/>
<line x1="320.62" y1="430.4" x2="320.62" y2="432" stroke="#000" stroke-width="1.25"/>
<line x1="325.56" y1="599.8" x2="325.56" y2="596" stroke="#000" stroke-width="1.25"/>
<line x1="325.56" y1="430.4" x2="325.56" y2="434.2" stroke="#000" stroke-width="1.25"/>
<line x1="330.5" y1="599.8" x2="330.5" y2="598.2" stroke="#000" stroke-width="1.25"/>
<line x1="330.5" y1="430.4" x2="330.5" y2="432" stroke="#000" stroke-width="1.25"/>
<line x1="335.44" y1="599.8" x2="335.44" y2="598.2" stroke="#000" stroke-width="1.25"/>
<line x1="335.44" y1="430.4" x2="335.44" y2="432" stroke="#000" stroke-width="1.25"/>
<line x1="340.38" y1="599.8" x2="340.38" y2="598.2" stroke="#000" stroke-width="1.25"/>
<line x1="340.38" y1="430.4" x2="340.38" y2="432" stroke="#000" stroke-width="1.25"/>
<line x1="345.32" y1="599.8" x2="345.32" y2="598.2" stroke="#000" stroke-width="1.25"/>
<line x1="345.32" y1="430.4" x2="345.32" y2="432" stroke="#000" stroke-width="1.25"/>
<line x1="350.26" y1="599.8" x2="350.26" y2="598.2" stroke="#000" stroke-width="1.25"/>
<line x1="350.26" y1="430.4" x2="350.26" y2="432" stroke="#000" stroke-width="1.25"/>
<line x1="355.2" y1="599.8" x2="355.2" y2="598.2" stroke="#000" stroke-width="1.25"/>
<line x1="355.2" y1="430.4" x2="355.2" y2="432" stroke="#000" stroke-width="1.25"/>
<line x1="360.14" y1="599.8" x2="360.14" y2="598.2" stroke="#000" stroke-width="1.25"/>
<line x1="360.14" y1="430.4" x2="360.14" y2="432" stroke="#000" stroke-width="1.25"/>
<line x1="365.08" y1="599.8" x2="365.08" y2="598.2" stroke="#000" stroke-width="1.25"/>
<line x1="365.08" y1="430.4" x2="365.08" y2="432" stroke="#000" stroke-width="1.25"/>
<line x1="370.02" y1="599.8" x2="370.02" y2="598.2" stroke="#000" stroke-width="1.25"/>
<line x1="370.02" y1="430.4" x2="370.02" y2="432" stroke="#000" stroke-width="1.25"/>
<line x1="374.96" y1="599.8" x2="374.96" y2="598.2" stroke="#000" stroke-width="1.25"/>
<line x1="374.96" y1="430.4" x2="374.96" y2="432" stroke="#000" stroke-width="1.25"/>
<line x1="379.91" y1="599.8" x2="379.91" y2="598.2" stroke="#000" stroke-width="1.25"/>
<line x1="379.91" y1="430.4" x2="379.91" y2="432" stroke="#000" stroke-width="1.25"/>
<line x1="384.85" y1="599.8" x2="384.85" y2="596" stroke="#000" stroke-width="1.25"/>
<line x1="384.85" y1="430.4" x2="384.85" y2="434.2" stroke="#000" stroke-width="1.25"/>
<line x1="389.79" y1="599.8" x2="389.79" y2="598.2" stroke="#000" stroke-width="1.25"/>
<line x1="389.79" y1="430.4" x2="389.79" y2="432" stroke="#000" stroke-width="1.25"/>
<line x1="394.73" y1="599.8" x2="394.73" y2="598.2" stroke="#000" stroke-width="1.25"/>
<line x1="394.73" y1="430.4" x2="394.73" y2="432" stroke="#000" stroke-width="1.25"/>
<line x1="399.67" y1="599.8" x2="399.67" y2="598.2" stroke="#000" stroke-width="1.25"/>
<line x1="399.67" y1="430.4" x2="399.67" y2="432" stroke="#000" stroke-width="1.25"/>
<line x1="404.61" y1="599.8" x2="404.61" y2="598.2" stroke="#000" stroke-width="1.25"/>
<line x1="404.61" y1="430.4" x2="404.61" y2="432" stroke="#000" stroke-width="1.25"/>
<line x1="409.55" y1="599.8" x2="409.55" y2="598.2" stroke="#000" stroke-width="1.25"/>
<line x1="409.55" y1="430.4" x2="409.55" y2="432" stroke="#000" stroke-width="1.25"/>
<line x1="414.49" y1="599.8" x2="414.49" y2="598.2" stroke="#000" stroke-width="1.25"/>
<line x1="414.49" y1="430.4" x2="414.49" y2="432" stroke="#000" stroke-width="1.25"/>
<line x1="419.43" y1="599.8" x2="419.43" y2="598.2" stroke="#000" stroke-width="1.25"/>
<line x1="419.43" y1="430.4" x2="419.43" y2="432" stroke="#000" stroke-width="1.25"/>
<line x1="424.37" y1="599.8" x2="424.37" y2="598.2" stroke="#000" stroke-width="1.25"/>
<line x1="424.37" y1="430.4" x2="424.37" y2="432" stroke="#000" stroke-width="1.25"/>
<line x1="429.31" y1="599.8" x2="429.31" y2="598.2" stroke="#000" stroke-width="1.25"/>
<line x1="429.31" y1="430.4" x2="429.31" y2="432" stroke="#000" stroke-width="1.25"/>
<line x1="434.25" y1="599.8" x2="434.25" y2="598.2" stroke="#000" stroke-width="1.25"/>
<line x1="434.25" y1="430.4" x2="434.25" y2="432" stroke="#000" stroke-width="1.25"/>
<line x1="439.19" y1="599.8" x2="439.19" y2="598.2" stroke="#000" stroke-width="1.25"/>
<line x1="439.19" y1="430.4" x2="439.19" y2="432" stroke="#000" stroke-width="1.25"/>
<line x1="444.13" y1="599.8" x2="444.13" y2="596" stroke="#000" stroke-width="1.25"/>
<line x1="444.13" y1="430.4" x2="444.13" y2="434.2" stroke="#000" stroke-width="1.25"/>
<line x1="449.07" y1="599.8" x2="449.07" y2="598.2" stroke="#000" stroke-width="1.25"/>
<line x1="449.07" y1="430.4" x2="449.07" y2="432" stroke="#000" stroke-width="1.25"/>
<line x1="454.01" y1="599.8" x2="454.01" y2="598.2" stroke="#000" stroke-width="1.25"/>
<line x1="454.01" y1="430.4" x2="454.01" y2="432" stroke="#000" stroke-width="1.25"/>
<line x1="458.95" y1="599.8" x2="458.95" y2="598.2" stroke="#000" stroke-width="1.25"/>
<line x1="458.95" y1="430.4" x2="458.95" y2="432" stroke="#000" stroke-width="1.25"/>
<line x1="463.89" y1="599.8" x2="463.89" y2="598.2" stroke="#000" stroke-width="1.25"/>
<line x1="463.89" y1="430.4" x2="463.89" y2="432" stroke="#000" stroke-width="1.25"/>
<line x1="468.83" y1="599.8" x2="468.83" y2="598.2" stroke="#000" stroke-width="1.25"/>
<line x1="468.83" y1="430.4" x2="468.83" y2="432" stroke="#000" stroke-width="1.25"/>
<line x1="473.77" y1="599.8" x2="473.77" y2="598.2" stroke="#000" stroke-width="1.25"/>
<line x1="473.77" y1="430.4" x2="473.77" y2="432" stroke="#000" stroke-width="1.25"/>
<line x1="478.71" y1="599.8" x2="478.71" y2="598.2" stroke="#000" stroke-width="1.25"/>
<line x1="478.71" y1="430.4" x2="478.71" y2="432" stroke="#000" stroke-width="1.25"/>
<line x1="483.65" y1="599.8" x2="483.65" y2="598.2" stroke="#000" stroke-width="1.25"/>
<line x1="483.65" y1="430.4" x2="483.65" y2="432" stroke="#000" stroke-width="1.25"/>
<line x1="488.59" y1="599.8" x2="488.59" y2="598.2" stroke="#000" stroke-width="1.25"/>
<line x1="488.59" y1="430.4" x2="488.59" y2="432" stroke="#000" stroke-width="1.25"/>
<line x1="493.53" y1="599.8" x2="493.53" y2="598.2" stroke="#000" stroke-width="1.25"/>
<line x1="493.53" y1="430.4" x2="493.53" y2="432" stroke="#000" stroke-width="1.25"/>
<line x1="498.47" y1="599.8" x2="498.47" y2="598.2" stroke="#000" stroke-width="1.25"/>
<line x1="498.47" y1="430.4" x2="498.47" y2="432" stroke="#000" stroke-width="1.25"/>
<line x1="503.42" y1="599.8" x2="503.42" y2="596" stroke="#000" stroke-width="1.25"/>
<line x1="503.42" y1="430.4" x2="503.42" y2="434.2" stroke="#000" stroke-width="1.25"/>
<line x1="508.36" y1="599.8" x2="508.36" y2="598.2" stroke="#000" stroke-width="1.25"/>
<line x1="508.36" y1="430.4" x2="508.36" y2="432" stroke="#000" stroke-width="1.25"/>
<line x1="513.3" y1="599.8" x2="513.3" y2="598.2" stroke="#000" stroke-width="1.25"/>
<line x1="513.3" y1="430.4" x2="513.3" y2="432" stroke="#000" stroke-width="1.25"/>
<line x1="518.24" y1="599.8" x2="518.24" y2="598.2" stroke="#000" stroke-width="1.25"/>
<line x1="518.24" y1="430.4" x2="518.24" y2="432" stroke="#000" stroke-width="1.25"/>
<line x1="523.18" y1="599.8" x2="523.18" y2="598.2" stroke="#000" stroke-width="1.25"/>
<line x1="523.18" y1="430.4" x2="523.18" y2="432" stroke="#000" stroke-width="1.25"/>
<line x1="528.12" y1="599.8" x2="528.12" y2="598.2" stroke="#000" stroke-width="1.25"/>
<line x1="528.12" y1="430.4" x2="528.12" y2="432" stroke="#000" stroke-width="1.25"/>
<line x1="533.06" y1="599.8" x2="533.06" y2="598.2" stroke="#000" stroke-width="1.25"/>
<line x1="533.06" y1="430.4" x2="533.06" y2="432" stroke="#000" stroke-width="1.25"/>
<line x1="538" y1="599.8" x2="538" y2="598.2" stroke="#000" stroke-width="1.25"/>
<line x1="538" y1="430.4" x2="538" y2="432" stroke="#000" stroke-width="1.25"/>
<line x1="542.94" y1="599.8" x2="542.94" y2="598.2" stroke="#000" stroke-width="1.25"/>
<line x1="542.94" y1="430.4" x2="542.94" y2="432" stroke="#000" stroke-width="1.25"/>
<line x1="547.88" y1="599.8" x2="547.88" y2="598.2" stroke="#000" stroke-width="1.25"/>
<line x1="547.88" y1="430.4" x2="547.88" y2="432" stroke="#000" stroke-width="1.25"/>
<line x1="552.82" y1="599.8" x2="552.82" y2="598.2" stroke="#000" stroke-width="1.25"/>
<line x1="552.82" y1="430.4" x2="552.82" y2="432" stroke="#000" stroke-width="1.25"/>
<line x1="557.76" y1="599.8" x2="557.76" y2="598.2" stroke="#000" stroke-width="1.25"/>
<line x1="557.76" y1="430.4" x2="557.76" y2="432" stroke="#000" stroke-width="1.25"/>
<text transform="translate(78.82,615.7) scale(1.08,1)" fill="#000" font-size="10.7" font-weight="bold" text-anchor="middle">2</text>
<text transform="translate(85.22,615.7) scale(1.08,1)" fill="#000" font-size="10.7" font-weight="bold" text-anchor="middle">0</text>
<text transform="translate(91.62,615.7) scale(1.08,1)" fill="#000" font-size="10.7" font-weight="bold" text-anchor="middle">1</text>
<text transform="translate(98.02,615.7) scale(1.08,1)" fill="#000" font-size="10.7" font-weight="bold" text-anchor="middle">0</text>
<text transform="translate(138.11,615.7) scale(1.08,1)" fill="#000" font-size="10.7" font-weight="bold" text-anchor="middle">2</text>
<text transform="translate(144.51,615.7) scale(1.08,1)" fill="#000" font-size="10.7" font-weight="bold" text-anchor="middle">0</text>
<text transform="translate(150.91,615.7) scale(1.08,1)" fill="#000" font-size="10.7" font-weight="bold" text-anchor="middle">1</text>
<text transform="translate(157.31,615.7) scale(1.08,1)" fill="#000" font-size="10.7" font-weight="bold" text-anchor="middle">1</text>
<text transform="translate(197.39,615.7) scale(1.08,1)" fill="#000" font-size="10.7" font-weight="bold" text-anchor="middle">2</text>
<text transform="translate(203.79,615.7) scale(1.08,1)" fill="#000" font-size="10.7" font-weight="bold" text-anchor="middle">0</text>
<text transform="translate(210.19,615.7) scale(1.08,1)" fill="#000" font-size="10.7" font-weight="bold" text-anchor="middle">1</text>
<text transform="translate(216.59,615.7) scale(1.08,1)" fill="#000" font-size="10.7" font-weight="bold" text-anchor="middle">2</text>
<text transform="translate(256.68,615.7) scale(1.08,1)" fill="#000" font-size="10.7" font-weight="bold" text-anchor="middle">2</text>
<text transform="translate(263.08,615.7) scale(1.08,1)" fill="#000" font-size="10.7" font-weight="bold" text-anchor="middle">0</text>
<text transform="translate(269.48,615.7) scale(1.08,1)" fill="#000" font-size="10.7" font-weight="bold" text-anchor="middle">1</text>
<text transform="translate(275.88,615.7) scale(1.08,1)" fill="#000" font-size="10.7" font-weight="bold" text-anchor="middle">3</text>
<text transform="translate(315.96,615.7) scale(1.08,1)" fill="#000" font-size="10.7" font-weight="bold" text-anchor="middle">2</text>
<text transform="translate(322.36,615.7) scale(1.08,1)" fill="#000" font-size="10.7" font-weight="bold" text-anchor="middle">0</text>
<text transform="translate(328.76,615.7) scale(1.08,1)" fill="#000" font-size="10.7" font-weight="bold" text-anchor="middle">1</text>
<text transform="translate(335.16,615.7) scale(1.08,1)" fill="#000" font-size="10.7" font-weight="bold" text-anchor="middle">4</text>
<text transform="translate(375.25,615.7) scale(1.08,1)" fill="#000" font-size="10.7" font-weight="bold" text-anchor="middle">2</text>
<text transform="translate(381.65,615.7) scale(1.08,1)" fill="#000" font-size="10.7" font-weight="bold" text-anchor="middle">0</text>
<text transform="translate(388.05,615.7) scale(1.08,1)" fill="#000" font-size="10.7" font-weight="bold" text-anchor="middle">1</text>
<text transform="translate(394.45,615.7) scale(1.08,1)" fill="#000" font-size="10.7" font-weight="bold" text-anchor="middle">5</text>
<text transform="translate(434.53,615.7) scale(1.08,1)" fill="#000" font-size="10.7" font-weight="bold" text-anchor="middle">2</text>
<text transform="translate(440.93,615.7) scale(1.08,1)" fill="#000" font-size="10.7" font-weight="bold" text-anchor="middle">0</text>
<text transform="translate(447.33,615.7) scale(1.08,1)" fill="#000" font-size="10.7" font-weight="bold" text-anchor="middle">1</text>
<text transform="translate(453.73,615.7) scale(1.08,1)" fill="#000" font-size="10.7" font-weight="bold" text-anchor="middle">6</text>
<text transform="translate(493.82,615.7) scale(1.08,1)" fill="#000" font-size="10.7" font-weight="bold" text-anchor="middle">2</text>
<text transform="translate(500.22,615.7) scale(1.08,1)" fill="#000" font-size="10.7" font-weight="bold" text-anchor="middle">0</text>
<text transform="translate(506.62,615.7) scale(1.08,1)" fill="#000" font-size="10.7" font-weight="bold" text-anchor="middle">1</text>
<text transform="translate(513.02,615.7) scale(1.08,1)" fill="#000" font-size="10.7" font-weight="bold" text-anchor="middle">7</text>
<text transform="translate(317.4,628.5)" fill="#000" font-size="10.7" font-weight="bold" text-anchor="middle" textLength="22" lengthAdjust="spacingAndGlyphs">Yeɑr</text>
<line x1="73.6" y1="430.4" x2="73.6" y2="599.8" stroke="#000" stroke-width="1.35"/>
<line x1="73.6" y1="430.4" x2="78.2" y2="430.4" stroke="#000" stroke-width="1.25"/>
<line x1="73.6" y1="438.1" x2="78.2" y2="438.1" stroke="#000" stroke-width="1.25"/>
<line x1="73.6" y1="445.8" x2="78.2" y2="445.8" stroke="#000" stroke-width="1.25"/>
<line x1="73.6" y1="453.5" x2="78.2" y2="453.5" stroke="#000" stroke-width="1.25"/>
<line x1="73.6" y1="461.2" x2="78.2" y2="461.2" stroke="#000" stroke-width="1.25"/>
<line x1="73.6" y1="468.9" x2="78.2" y2="468.9" stroke="#000" stroke-width="1.25"/>
<line x1="73.6" y1="476.6" x2="78.2" y2="476.6" stroke="#000" stroke-width="1.25"/>
<line x1="73.6" y1="484.3" x2="78.2" y2="484.3" stroke="#000" stroke-width="1.25"/>
<line x1="73.6" y1="492" x2="78.2" y2="492" stroke="#000" stroke-width="1.25"/>
<line x1="73.6" y1="499.7" x2="78.2" y2="499.7" stroke="#000" stroke-width="1.25"/>
<line x1="73.6" y1="507.4" x2="78.2" y2="507.4" stroke="#000" stroke-width="1.25"/>
<line x1="73.6" y1="515.1" x2="78.2" y2="515.1" stroke="#000" stroke-width="1.25"/>
<line x1="73.6" y1="522.8" x2="78.2" y2="522.8" stroke="#000" stroke-width="1.25"/>
<line x1="73.6" y1="530.5" x2="78.2" y2="530.5" stroke="#000" stroke-width="1.25"/>
<line x1="73.6" y1="538.2" x2="78.2" y2="538.2" stroke="#000" stroke-width="1.25"/>
<line x1="73.6" y1="545.9" x2="78.2" y2="545.9" stroke="#000" stroke-width="1.25"/>
<line x1="73.6" y1="553.6" x2="78.2" y2="553.6" stroke="#000" stroke-width="1.25"/>
<line x1="73.6" y1="561.3" x2="78.2" y2="561.3" stroke="#000" stroke-width="1.25"/>
<line x1="73.6" y1="569" x2="78.2" y2="569" stroke="#000" stroke-width="1.25"/>
<line x1="73.6" y1="576.7" x2="78.2" y2="576.7" stroke="#000" stroke-width="1.25"/>
<line x1="73.6" y1="584.4" x2="78.2" y2="584.4" stroke="#000" stroke-width="1.25"/>
<line x1="73.6" y1="592.1" x2="78.2" y2="592.1" stroke="#000" stroke-width="1.25"/>
<line x1="73.6" y1="599.8" x2="78.2" y2="599.8" stroke="#000" stroke-width="1.25"/>
<line x1="73.6" y1="584.4" x2="82.9" y2="584.4" stroke="#000" stroke-width="1.25"/>
<line x1="73.6" y1="553.6" x2="82.9" y2="553.6" stroke="#000" stroke-width="1.25"/>
<line x1="73.6" y1="522.8" x2="82.9" y2="522.8" stroke="#000" stroke-width="1.25"/>
<line x1="73.6" y1="492" x2="82.9" y2="492" stroke="#000" stroke-width="1.25"/>
<line x1="73.6" y1="461.2" x2="82.9" y2="461.2" stroke="#000" stroke-width="1.25"/>
<line x1="73.6" y1="430.4" x2="82.9" y2="430.4" stroke="#000" stroke-width="1.25"/>
<text transform="translate(23.6,589.4) scale(1.08,1)" fill="#000" font-size="10.7" font-weight="bold" text-anchor="middle">−</text>
<text transform="translate(31.2,589.4) scale(1.08,1)" fill="#000" font-size="10.7" font-weight="bold" text-anchor="middle">1</text>
<text transform="translate(36.3,589.4) scale(1.08,1)" fill="#000" font-size="10.7" font-weight="bold" text-anchor="middle">.</text>
<text transform="translate(41.4,589.4) scale(1.08,1)" fill="#000" font-size="10.7" font-weight="bold" text-anchor="middle">2</text>
<text transform="translate(48.75,589.4) scale(1.08,1)" fill="#000" font-size="10.7" font-weight="bold" text-anchor="middle">×</text>
<text transform="translate(56.1,589.4) scale(1.08,1)" fill="#000" font-size="10.7" font-weight="bold" text-anchor="middle">1</text>
<text transform="translate(62.5,589.4) scale(1.08,1)" fill="#000" font-size="10.7" font-weight="bold" text-anchor="middle">0</text>
<text transform="translate(68,583.9) scale(1.08,1)" fill="#000" font-size="6.5" font-weight="bold" text-anchor="middle">6</text>
<text transform="translate(23.6,558.6) scale(1.08,1)" fill="#000" font-size="10.7" font-weight="bold" text-anchor="middle">−</text>
<text transform="translate(31.2,558.6) scale(1.08,1)" fill="#000" font-size="10.7" font-weight="bold" text-anchor="middle">1</text>
<text transform="translate(36.3,558.6) scale(1.08,1)" fill="#000" font-size="10.7" font-weight="bold" text-anchor="middle">.</text>
<text transform="translate(41.4,558.6) scale(1.08,1)" fill="#000" font-size="10.7" font-weight="bold" text-anchor="middle">4</text>
<text transform="translate(48.75,558.6) scale(1.08,1)" fill="#000" font-size="10.7" font-weight="bold" text-anchor="middle">×</text>
<text transform="translate(56.1,558.6) scale(1.08,1)" fill="#000" font-size="10.7" font-weight="bold" text-anchor="middle">1</text>
<text transform="translate(62.5,558.6) scale(1.08,1)" fill="#000" font-size="10.7" font-weight="bold" text-anchor="middle">0</text>
<text transform="translate(68,553.1) scale(1.08,1)" fill="#000" font-size="6.5" font-weight="bold" text-anchor="middle">6</text>
<text transform="translate(23.6,527.8) scale(1.08,1)" fill="#000" font-size="10.7" font-weight="bold" text-anchor="middle">−</text>
<text transform="translate(31.2,527.8) scale(1.08,1)" fill="#000" font-size="10.7" font-weight="bold" text-anchor="middle">1</text>
<text transform="translate(36.3,527.8) scale(1.08,1)" fill="#000" font-size="10.7" font-weight="bold" text-anchor="middle">.</text>
<text transform="translate(41.4,527.8) scale(1.08,1)" fill="#000" font-size="10.7" font-weight="bold" text-anchor="middle">6</text>
<text transform="translate(48.75,527.8) scale(1.08,1)" fill="#000" font-size="10.7" font-weight="bold" text-anchor="middle">×</text>
<text transform="translate(56.1,527.8) scale(1.08,1)" fill="#000" font-size="10.7" font-weight="bold" text-anchor="middle">1</text>
<text transform="translate(62.5,527.8) scale(1.08,1)" fill="#000" font-size="10.7" font-weight="bold" text-anchor="middle">0</text>
<text transform="translate(68,522.3) scale(1.08,1)" fill="#000" font-size="6.5" font-weight="bold" text-anchor="middle">6</text>
<text transform="translate(23.6,497) scale(1.08,1)" fill="#000" font-size="10.7" font-weight="bold" text-anchor="middle">−</text>
<text transform="translate(31.2,497) scale(1.08,1)" fill="#000" font-size="10.7" font-weight="bold" text-anchor="middle">1</text>
<text transform="translate(36.3,497) scale(1.08,1)" fill="#000" font-size="10.7" font-weight="bold" text-anchor="middle">.</text>
<text transform="translate(41.4,497) scale(1.08,1)" fill="#000" font-size="10.7" font-weight="bold" text-anchor="middle">8</text>
<text transform="translate(48.75,497) scale(1.08,1)" fill="#000" font-size="10.7" font-weight="bold" text-anchor="middle">×</text>
<text transform="translate(56.1,497) scale(1.08,1)" fill="#000" font-size="10.7" font-weight="bold" text-anchor="middle">1</text>
<text transform="translate(62.5,497) scale(1.08,1)" fill="#000" font-size="10.7" font-weight="bold" text-anchor="middle">0</text>
<text transform="translate(68,491.5) scale(1.08,1)" fill="#000" font-size="6.5" font-weight="bold" text-anchor="middle">6</text>
<text transform="translate(23.6,466.2) scale(1.08,1)" fill="#000" font-size="10.7" font-weight="bold" text-anchor="middle">−</text>
<text transform="translate(31.2,466.2) scale(1.08,1)" fill="#000" font-size="10.7" font-weight="bold" text-anchor="middle">2</text>
<text transform="translate(36.3,466.2) scale(1.08,1)" fill="#000" font-size="10.7" font-weight="bold" text-anchor="middle">.</text>
<text transform="translate(41.4,466.2) scale(1.08,1)" fill="#000" font-size="10.7" font-weight="bold" text-anchor="middle">0</text>
<text transform="translate(48.75,466.2) scale(1.08,1)" fill="#000" font-size="10.7" font-weight="bold" text-anchor="middle">×</text>
<text transform="translate(56.1,466.2) scale(1.08,1)" fill="#000" font-size="10.7" font-weight="bold" text-anchor="middle">1</text>
<text transform="translate(62.5,466.2) scale(1.08,1)" fill="#000" font-size="10.7" font-weight="bold" text-anchor="middle">0</text>
<text transform="translate(68,460.7) scale(1.08,1)" fill="#000" font-size="6.5" font-weight="bold" text-anchor="middle">6</text>
<text transform="translate(23.6,437.8) scale(1.08,1)" fill="#000" font-size="10.7" font-weight="bold" text-anchor="middle">−</text>
<text transform="translate(31.2,437.8) scale(1.08,1)" fill="#000" font-size="10.7" font-weight="bold" text-anchor="middle">2</text>
<text transform="translate(36.3,437.8) scale(1.08,1)" fill="#000" font-size="10.7" font-weight="bold" text-anchor="middle">.</text>
<text transform="translate(41.4,437.8) scale(1.08,1)" fill="#000" font-size="10.7" font-weight="bold" text-anchor="middle">2</text>
<text transform="translate(48.75,437.8) scale(1.08,1)" fill="#000" font-size="10.7" font-weight="bold" text-anchor="middle">×</text>
<text transform="translate(56.1,437.8) scale(1.08,1)" fill="#000" font-size="10.7" font-weight="bold" text-anchor="middle">1</text>
<text transform="translate(62.5,437.8) scale(1.08,1)" fill="#000" font-size="10.7" font-weight="bold" text-anchor="middle">0</text>
<text transform="translate(68,432.3) scale(1.08,1)" fill="#000" font-size="6.5" font-weight="bold" text-anchor="middle">6</text>
<line x1="562.4" y1="430.4" x2="562.4" y2="599.8" stroke="#469859" stroke-width="1.35"/>
<line x1="562.4" y1="599.8" x2="557.8" y2="599.8" stroke="#469859" stroke-width="1.25"/>
<line x1="562.4" y1="596.77" x2="557.8" y2="596.77" stroke="#469859" stroke-width="1.25"/>
<line x1="562.4" y1="593.75" x2="557.8" y2="593.75" stroke="#469859" stroke-width="1.25"/>
<line x1="562.4" y1="590.72" x2="557.8" y2="590.72" stroke="#469859" stroke-width="1.25"/>
<line x1="562.4" y1="587.7" x2="557.8" y2="587.7" stroke="#469859" stroke-width="1.25"/>
<line x1="562.4" y1="584.67" x2="557.8" y2="584.67" stroke="#469859" stroke-width="1.25"/>
<line x1="562.4" y1="581.65" x2="557.8" y2="581.65" stroke="#469859" stroke-width="1.25"/>
<line x1="562.4" y1="578.62" x2="557.8" y2="578.62" stroke="#469859" stroke-width="1.25"/>
<line x1="562.4" y1="575.6" x2="557.8" y2="575.6" stroke="#469859" stroke-width="1.25"/>
<line x1="562.4" y1="572.57" x2="557.8" y2="572.57" stroke="#469859" stroke-width="1.25"/>
<line x1="562.4" y1="569.55" x2="557.8" y2="569.55" stroke="#469859" stroke-width="1.25"/>
<line x1="562.4" y1="566.52" x2="557.8" y2="566.52" stroke="#469859" stroke-width="1.25"/>
<line x1="562.4" y1="563.5" x2="557.8" y2="563.5" stroke="#469859" stroke-width="1.25"/>
<line x1="562.4" y1="560.47" x2="557.8" y2="560.47" stroke="#469859" stroke-width="1.25"/>
<line x1="562.4" y1="557.45" x2="557.8" y2="557.45" stroke="#469859" stroke-width="1.25"/>
<line x1="562.4" y1="554.42" x2="557.8" y2="554.42" stroke="#469859" stroke-width="1.25"/>
<line x1="562.4" y1="551.4" x2="557.8" y2="551.4" stroke="#469859" stroke-width="1.25"/>
<line x1="562.4" y1="548.38" x2="557.8" y2="548.38" stroke="#469859" stroke-width="1.25"/>
<line x1="562.4" y1="545.35" x2="557.8" y2="545.35" stroke="#469859" stroke-width="1.25"/>
<line x1="562.4" y1="542.32" x2="557.8" y2="542.32" stroke="#469859" stroke-width="1.25"/>
<line x1="562.4" y1="539.3" x2="557.8" y2="539.3" stroke="#469859" stroke-width="1.25"/>
<line x1="562.4" y1="536.27" x2="557.8" y2="536.27" stroke="#469859" stroke-width="1.25"/>
<line x1="562.4" y1="533.25" x2="557.8" y2="533.25" stroke="#469859" stroke-width="1.25"/>
<line x1="562.4" y1="530.22" x2="557.8" y2="530.22" stroke="#469859" stroke-width="1.25"/>
<line x1="562.4" y1="527.2" x2="557.8" y2="527.2" stroke="#469859" stroke-width="1.25"/>
<line x1="562.4" y1="524.17" x2="557.8" y2="524.17" stroke="#469859" stroke-width="1.25"/>
<line x1="562.4" y1="521.15" x2="557.8" y2="521.15" stroke="#469859" stroke-width="1.25"/>
<line x1="562.4" y1="518.12" x2="557.8" y2="518.12" stroke="#469859" stroke-width="1.25"/>
<line x1="562.4" y1="515.1" x2="557.8" y2="515.1" stroke="#469859" stroke-width="1.25"/>
<line x1="562.4" y1="512.07" x2="557.8" y2="512.07" stroke="#469859" stroke-width="1.25"/>
<line x1="562.4" y1="509.05" x2="557.8" y2="509.05" stroke="#469859" stroke-width="1.25"/>
<line x1="562.4" y1="506.02" x2="557.8" y2="506.02" stroke="#469859" stroke-width="1.25"/>
<line x1="562.4" y1="503" x2="557.8" y2="503" stroke="#469859" stroke-width="1.25"/>
<line x1="562.4" y1="499.97" x2="557.8" y2="499.97" stroke="#469859" stroke-width="1.25"/>
<line x1="562.4" y1="496.95" x2="557.8" y2="496.95" stroke="#469859" stroke-width="1.25"/>
<line x1="562.4" y1="493.92" x2="557.8" y2="493.92" stroke="#469859" stroke-width="1.25"/>
<line x1="562.4" y1="490.9" x2="557.8" y2="490.9" stroke="#469859" stroke-width="1.25"/>
<line x1="562.4" y1="487.88" x2="557.8" y2="487.88" stroke="#469859" stroke-width="1.25"/>
<line x1="562.4" y1="484.85" x2="557.8" y2="484.85" stroke="#469859" stroke-width="1.25"/>
<line x1="562.4" y1="481.82" x2="557.8" y2="481.82" stroke="#469859" stroke-width="1.25"/>
<line x1="562.4" y1="478.8" x2="557.8" y2="478.8" stroke="#469859" stroke-width="1.25"/>
<line x1="562.4" y1="475.77" x2="557.8" y2="475.77" stroke="#469859" stroke-width="1.25"/>
<line x1="562.4" y1="472.75" x2="557.8" y2="472.75" stroke="#469859" stroke-width="1.25"/>
<line x1="562.4" y1="469.72" x2="557.8" y2="469.72" stroke="#469859" stroke-width="1.25"/>
<line x1="562.4" y1="466.7" x2="557.8" y2="466.7" stroke="#469859" stroke-width="1.25"/>
<line x1="562.4" y1="463.67" x2="557.8" y2="463.67" stroke="#469859" stroke-width="1.25"/>
<line x1="562.4" y1="460.65" x2="557.8" y2="460.65" stroke="#469859" stroke-width="1.25"/>
<line x1="562.4" y1="457.62" x2="557.8" y2="457.62" stroke="#469859" stroke-width="1.25"/>
<line x1="562.4" y1="454.6" x2="557.8" y2="454.6" stroke="#469859" stroke-width="1.25"/>
<line x1="562.4" y1="451.57" x2="557.8" y2="451.57" stroke="#469859" stroke-width="1.25"/>
<line x1="562.4" y1="448.55" x2="557.8" y2="448.55" stroke="#469859" stroke-width="1.25"/>
<line x1="562.4" y1="445.52" x2="557.8" y2="445.52" stroke="#469859" stroke-width="1.25"/>
<line x1="562.4" y1="442.5" x2="557.8" y2="442.5" stroke="#469859" stroke-width="1.25"/>
<line x1="562.4" y1="439.48" x2="557.8" y2="439.48" stroke="#469859" stroke-width="1.25"/>
<line x1="562.4" y1="436.45" x2="557.8" y2="436.45" stroke="#469859" stroke-width="1.25"/>
<line x1="562.4" y1="433.42" x2="557.8" y2="433.42" stroke="#469859" stroke-width="1.25"/>
<line x1="562.4" y1="430.4" x2="557.8" y2="430.4" stroke="#469859" stroke-width="1.25"/>
<line x1="562.4" y1="572.57" x2="553.1" y2="572.57" stroke="#469859" stroke-width="1.25"/>
<line x1="562.4" y1="542.32" x2="553.1" y2="542.32" stroke="#469859" stroke-width="1.25"/>
<line x1="562.4" y1="512.07" x2="553.1" y2="512.07" stroke="#469859" stroke-width="1.25"/>
<line x1="562.4" y1="481.82" x2="553.1" y2="481.82" stroke="#469859" stroke-width="1.25"/>
<line x1="562.4" y1="451.57" x2="553.1" y2="451.57" stroke="#469859" stroke-width="1.25"/>
<text transform="translate(570,577.57) scale(1.08,1)" fill="#469859" font-size="10.7" font-weight="normal" text-anchor="middle" stroke="#469859" stroke-width="0.3">1</text>
<text transform="translate(576.4,577.57) scale(1.08,1)" fill="#469859" font-size="10.7" font-weight="normal" text-anchor="middle" stroke="#469859" stroke-width="0.3">5</text>
<text transform="translate(582.8,577.57) scale(1.08,1)" fill="#469859" font-size="10.7" font-weight="normal" text-anchor="middle" stroke="#469859" stroke-width="0.3">0</text>
<text transform="translate(570,547.32) scale(1.08,1)" fill="#469859" font-size="10.7" font-weight="normal" text-anchor="middle" stroke="#469859" stroke-width="0.3">1</text>
<text transform="translate(576.4,547.32) scale(1.08,1)" fill="#469859" font-size="10.7" font-weight="normal" text-anchor="middle" stroke="#469859" stroke-width="0.3">6</text>
<text transform="translate(582.8,547.32) scale(1.08,1)" fill="#469859" font-size="10.7" font-weight="normal" text-anchor="middle" stroke="#469859" stroke-width="0.3">0</text>
<text transform="translate(570,517.07) scale(1.08,1)" fill="#469859" font-size="10.7" font-weight="normal" text-anchor="middle" stroke="#469859" stroke-width="0.3">1</text>
<text transform="translate(576.4,517.07) scale(1.08,1)" fill="#469859" font-size="10.7" font-weight="normal" text-anchor="middle" stroke="#469859" stroke-width="0.3">7</text>
<text transform="translate(582.8,517.07) scale(1.08,1)" fill="#469859" font-size="10.7" font-weight="normal" text-anchor="middle" stroke="#469859" stroke-width="0.3">0</text>
<text transform="translate(570,486.82) scale(1.08,1)" fill="#469859" font-size="10.7" font-weight="normal" text-anchor="middle" stroke="#469859" stroke-width="0.3">1</text>
<text transform="translate(576.4,486.82) scale(1.08,1)" fill="#469859" font-size="10.7" font-weight="normal" text-anchor="middle" stroke="#469859" stroke-width="0.3">8</text>
<text transform="translate(582.8,486.82) scale(1.08,1)" fill="#469859" font-size="10.7" font-weight="normal" text-anchor="middle" stroke="#469859" stroke-width="0.3">0</text>
<text transform="translate(570,456.57) scale(1.08,1)" fill="#469859" font-size="10.7" font-weight="normal" text-anchor="middle" stroke="#469859" stroke-width="0.3">1</text>
<text transform="translate(576.4,456.57) scale(1.08,1)" fill="#469859" font-size="10.7" font-weight="normal" text-anchor="middle" stroke="#469859" stroke-width="0.3">9</text>
<text transform="translate(582.8,456.57) scale(1.08,1)" fill="#469859" font-size="10.7" font-weight="normal" text-anchor="middle" stroke="#469859" stroke-width="0.3">0</text>
<line x1="621.5" y1="430.4" x2="621.5" y2="599.8" stroke="#3F83BA" stroke-width="1.35"/>
<line x1="621.5" y1="599.8" x2="616.9" y2="599.8" stroke="#3F83BA" stroke-width="1.25"/>
<line x1="621.5" y1="596.41" x2="616.9" y2="596.41" stroke="#3F83BA" stroke-width="1.25"/>
<line x1="621.5" y1="593.02" x2="616.9" y2="593.02" stroke="#3F83BA" stroke-width="1.25"/>
<line x1="621.5" y1="589.64" x2="616.9" y2="589.64" stroke="#3F83BA" stroke-width="1.25"/>
<line x1="621.5" y1="586.25" x2="616.9" y2="586.25" stroke="#3F83BA" stroke-width="1.25"/>
<line x1="621.5" y1="582.86" x2="616.9" y2="582.86" stroke="#3F83BA" stroke-width="1.25"/>
<line x1="621.5" y1="579.47" x2="616.9" y2="579.47" stroke="#3F83BA" stroke-width="1.25"/>
<line x1="621.5" y1="576.08" x2="616.9" y2="576.08" stroke="#3F83BA" stroke-width="1.25"/>
<line x1="621.5" y1="572.7" x2="616.9" y2="572.7" stroke="#3F83BA" stroke-width="1.25"/>
<line x1="621.5" y1="569.31" x2="616.9" y2="569.31" stroke="#3F83BA" stroke-width="1.25"/>
<line x1="621.5" y1="565.92" x2="616.9" y2="565.92" stroke="#3F83BA" stroke-width="1.25"/>
<line x1="621.5" y1="562.53" x2="616.9" y2="562.53" stroke="#3F83BA" stroke-width="1.25"/>
<line x1="621.5" y1="559.14" x2="616.9" y2="559.14" stroke="#3F83BA" stroke-width="1.25"/>
<line x1="621.5" y1="555.76" x2="616.9" y2="555.76" stroke="#3F83BA" stroke-width="1.25"/>
<line x1="621.5" y1="552.37" x2="616.9" y2="552.37" stroke="#3F83BA" stroke-width="1.25"/>
<line x1="621.5" y1="548.98" x2="616.9" y2="548.98" stroke="#3F83BA" stroke-width="1.25"/>
<line x1="621.5" y1="545.59" x2="616.9" y2="545.59" stroke="#3F83BA" stroke-width="1.25"/>
<line x1="621.5" y1="542.2" x2="616.9" y2="542.2" stroke="#3F83BA" stroke-width="1.25"/>
<line x1="621.5" y1="538.82" x2="616.9" y2="538.82" stroke="#3F83BA" stroke-width="1.25"/>
<line x1="621.5" y1="535.43" x2="616.9" y2="535.43" stroke="#3F83BA" stroke-width="1.25"/>
<line x1="621.5" y1="532.04" x2="616.9" y2="532.04" stroke="#3F83BA" stroke-width="1.25"/>
<line x1="621.5" y1="528.65" x2="616.9" y2="528.65" stroke="#3F83BA" stroke-width="1.25"/>
<line x1="621.5" y1="525.26" x2="616.9" y2="525.26" stroke="#3F83BA" stroke-width="1.25"/>
<line x1="621.5" y1="521.88" x2="616.9" y2="521.88" stroke="#3F83BA" stroke-width="1.25"/>
<line x1="621.5" y1="518.49" x2="616.9" y2="518.49" stroke="#3F83BA" stroke-width="1.25"/>
<line x1="621.5" y1="515.1" x2="616.9" y2="515.1" stroke="#3F83BA" stroke-width="1.25"/>
<line x1="621.5" y1="511.71" x2="616.9" y2="511.71" stroke="#3F83BA" stroke-width="1.25"/>
<line x1="621.5" y1="508.32" x2="616.9" y2="508.32" stroke="#3F83BA" stroke-width="1.25"/>
<line x1="621.5" y1="504.94" x2="616.9" y2="504.94" stroke="#3F83BA" stroke-width="1.25"/>
<line x1="621.5" y1="501.55" x2="616.9" y2="501.55" stroke="#3F83BA" stroke-width="1.25"/>
<line x1="621.5" y1="498.16" x2="616.9" y2="498.16" stroke="#3F83BA" stroke-width="1.25"/>
<line x1="621.5" y1="494.77" x2="616.9" y2="494.77" stroke="#3F83BA" stroke-width="1.25"/>
<line x1="621.5" y1="491.38" x2="616.9" y2="491.38" stroke="#3F83BA" stroke-width="1.25"/>
<line x1="621.5" y1="488" x2="616.9" y2="488" stroke="#3F83BA" stroke-width="1.25"/>
<line x1="621.5" y1="484.61" x2="616.9" y2="484.61" stroke="#3F83BA" stroke-width="1.25"/>
<line x1="621.5" y1="481.22" x2="616.9" y2="481.22" stroke="#3F83BA" stroke-width="1.25"/>
<line x1="621.5" y1="477.83" x2="616.9" y2="477.83" stroke="#3F83BA" stroke-width="1.25"/>
<line x1="621.5" y1="474.44" x2="616.9" y2="474.44" stroke="#3F83BA" stroke-width="1.25"/>
<line x1="621.5" y1="471.06" x2="616.9" y2="471.06" stroke="#3F83BA" stroke-width="1.25"/>
<line x1="621.5" y1="467.67" x2="616.9" y2="467.67" stroke="#3F83BA" stroke-width="1.25"/>
<line x1="621.5" y1="464.28" x2="616.9" y2="464.28" stroke="#3F83BA" stroke-width="1.25"/>
<line x1="621.5" y1="460.89" x2="616.9" y2="460.89" stroke="#3F83BA" stroke-width="1.25"/>
<line x1="621.5" y1="457.5" x2="616.9" y2="457.5" stroke="#3F83BA" stroke-width="1.25"/>
<line x1="621.5" y1="454.12" x2="616.9" y2="454.12" stroke="#3F83BA" stroke-width="1.25"/>
<line x1="621.5" y1="450.73" x2="616.9" y2="450.73" stroke="#3F83BA" stroke-width="1.25"/>
<line x1="621.5" y1="447.34" x2="616.9" y2="447.34" stroke="#3F83BA" stroke-width="1.25"/>
<line x1="621.5" y1="443.95" x2="616.9" y2="443.95" stroke="#3F83BA" stroke-width="1.25"/>
<line x1="621.5" y1="440.56" x2="616.9" y2="440.56" stroke="#3F83BA" stroke-width="1.25"/>
<line x1="621.5" y1="437.18" x2="616.9" y2="437.18" stroke="#3F83BA" stroke-width="1.25"/>
<line x1="621.5" y1="433.79" x2="616.9" y2="433.79" stroke="#3F83BA" stroke-width="1.25"/>
<line x1="621.5" y1="430.4" x2="616.9" y2="430.4" stroke="#3F83BA" stroke-width="1.25"/>
<line x1="621.5" y1="599.8" x2="612.2" y2="599.8" stroke="#3F83BA" stroke-width="1.25"/>
<line x1="621.5" y1="565.92" x2="612.2" y2="565.92" stroke="#3F83BA" stroke-width="1.25"/>
<line x1="621.5" y1="532.04" x2="612.2" y2="532.04" stroke="#3F83BA" stroke-width="1.25"/>
<line x1="621.5" y1="498.16" x2="612.2" y2="498.16" stroke="#3F83BA" stroke-width="1.25"/>
<line x1="621.5" y1="464.28" x2="612.2" y2="464.28" stroke="#3F83BA" stroke-width="1.25"/>
<line x1="621.5" y1="430.4" x2="612.2" y2="430.4" stroke="#3F83BA" stroke-width="1.25"/>
<text transform="translate(627.6,600.8) scale(1.08,1)" fill="#3F83BA" font-size="10.7" font-weight="normal" text-anchor="middle" stroke="#3F83BA" stroke-width="0.3">2</text>
<text transform="translate(634,600.8) scale(1.08,1)" fill="#3F83BA" font-size="10.7" font-weight="normal" text-anchor="middle" stroke="#3F83BA" stroke-width="0.3">0</text>
<text transform="translate(627.6,570.92) scale(1.08,1)" fill="#3F83BA" font-size="10.7" font-weight="normal" text-anchor="middle" stroke="#3F83BA" stroke-width="0.3">3</text>
<text transform="translate(634,570.92) scale(1.08,1)" fill="#3F83BA" font-size="10.7" font-weight="normal" text-anchor="middle" stroke="#3F83BA" stroke-width="0.3">0</text>
<text transform="translate(627.6,537.04) scale(1.08,1)" fill="#3F83BA" font-size="10.7" font-weight="normal" text-anchor="middle" stroke="#3F83BA" stroke-width="0.3">4</text>
<text transform="translate(634,537.04) scale(1.08,1)" fill="#3F83BA" font-size="10.7" font-weight="normal" text-anchor="middle" stroke="#3F83BA" stroke-width="0.3">0</text>
<text transform="translate(627.6,503.16) scale(1.08,1)" fill="#3F83BA" font-size="10.7" font-weight="normal" text-anchor="middle" stroke="#3F83BA" stroke-width="0.3">5</text>
<text transform="translate(634,503.16) scale(1.08,1)" fill="#3F83BA" font-size="10.7" font-weight="normal" text-anchor="middle" stroke="#3F83BA" stroke-width="0.3">0</text>
<text transform="translate(627.6,469.28) scale(1.08,1)" fill="#3F83BA" font-size="10.7" font-weight="normal" text-anchor="middle" stroke="#3F83BA" stroke-width="0.3">6</text>
<text transform="translate(634,469.28) scale(1.08,1)" fill="#3F83BA" font-size="10.7" font-weight="normal" text-anchor="middle" stroke="#3F83BA" stroke-width="0.3">0</text>
<text transform="translate(627.6,437.3) scale(1.08,1)" fill="#3F83BA" font-size="10.7" font-weight="normal" text-anchor="middle" stroke="#3F83BA" stroke-width="0.3">7</text>
<text transform="translate(634,437.3) scale(1.08,1)" fill="#3F83BA" font-size="10.7" font-weight="normal" text-anchor="middle" stroke="#3F83BA" stroke-width="0.3">0</text>
<text transform="translate(10.6,515) rotate(-90)" fill="#000" font-size="10.7" font-weight="bold" text-anchor="middle" textLength="60" lengthAdjust="spacing">Q<tspan font-size="9.5" dy="2.2">s</tspan><tspan dy="-2.2"> (kg s</tspan><tspan font-size="7.0" dy="-5.8">−1</tspan><tspan dy="5.8">)</tspan></text>
<text transform="translate(596,515.5) rotate(-90)" fill="#469859" font-size="10.7" font-weight="normal" text-anchor="middle" textLength="100.5" lengthAdjust="spacing" stroke="#469859" stroke-width="0.3">Precipitɑtion (mm)</text>
<text transform="translate(649.2,515.6) rotate(-90)" fill="#3F83BA" font-size="10.7" font-weight="normal" text-anchor="middle" textLength="68" lengthAdjust="spacing" stroke="#3F83BA" stroke-width="0.3">NHF (W m<tspan font-size="7.0" dy="-4.6">−2</tspan><tspan dy="4.6">)</tspan></text>
</svg></body></html>
